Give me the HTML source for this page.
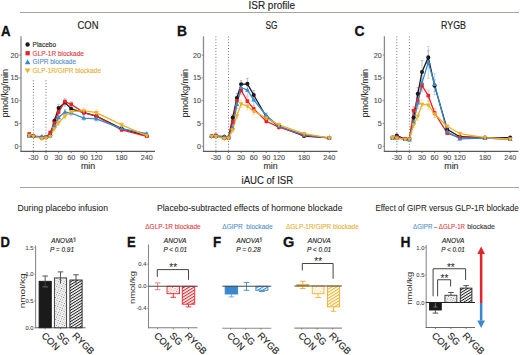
<!DOCTYPE html>
<html><head><meta charset="utf-8"><title>ISR profile</title>
<style>html,body{margin:0;padding:0;background:#fff;}body{width:520px;height:355px;overflow:hidden;font-family:"Liberation Sans", sans-serif;}svg{display:block;}</style>
</head><body>
<svg width="520" height="355" viewBox="0 0 520 355" font-family='"Liberation Sans", sans-serif'>
<defs><pattern id="hk" patternUnits="userSpaceOnUse" width="2.4" height="2.4" patternTransform="rotate(-32)"><rect width="2.4" height="0.95" fill="#1a1a1a"/></pattern><pattern id="hr" patternUnits="userSpaceOnUse" width="2.6" height="2.6" patternTransform="rotate(-32)"><rect width="2.6" height="1.1" fill="#e5242a"/></pattern><pattern id="hb" patternUnits="userSpaceOnUse" width="2.6" height="2.6" patternTransform="rotate(-32)"><rect width="2.6" height="1.1" fill="#3b88cc"/></pattern><pattern id="hy" patternUnits="userSpaceOnUse" width="2.6" height="2.6" patternTransform="rotate(-32)"><rect width="2.6" height="1.1" fill="#eeb12a"/></pattern><pattern id="dk" patternUnits="userSpaceOnUse" width="2.6" height="2.6" patternTransform="rotate(20)"><rect x="0" y="0" width="0.9" height="0.9" fill="#333" opacity="0.7"/><rect x="1.3" y="1.3" width="0.9" height="0.9" fill="#333" opacity="0.55"/></pattern><pattern id="dr" patternUnits="userSpaceOnUse" width="2.6" height="2.6" patternTransform="rotate(20)"><rect x="0" y="0" width="0.9" height="0.9" fill="#e5242a" opacity="0.7"/><rect x="1.3" y="1.3" width="0.9" height="0.9" fill="#e5242a" opacity="0.55"/></pattern><pattern id="db" patternUnits="userSpaceOnUse" width="2.6" height="2.6" patternTransform="rotate(20)"><rect x="0" y="0" width="0.9" height="0.9" fill="#3b88cc" opacity="0.7"/><rect x="1.3" y="1.3" width="0.9" height="0.9" fill="#3b88cc" opacity="0.55"/></pattern><pattern id="dy" patternUnits="userSpaceOnUse" width="2.6" height="2.6" patternTransform="rotate(20)"><rect x="0" y="0" width="0.9" height="0.9" fill="#eeb12a" opacity="0.7"/><rect x="1.3" y="1.3" width="0.9" height="0.9" fill="#eeb12a" opacity="0.55"/></pattern></defs>
<rect width="520" height="355" fill="#fff"/>
<text x="248.5" y="8.8" font-size="10.9" fill="#222" textLength="46.5" lengthAdjust="spacingAndGlyphs" stroke="#222" stroke-width="0.15">ISR profile</text>
<line x1="20" y1="12.5" x2="519" y2="12.5" stroke="#a8a4a0" stroke-width="1"/>
<text x="77.5" y="28.5" font-size="10.9" fill="#222" textLength="21" lengthAdjust="spacingAndGlyphs" stroke="#222" stroke-width="0.15">CON</text>
<text x="265.6" y="28.7" font-size="10.47" fill="#222" textLength="11.9" lengthAdjust="spacingAndGlyphs" stroke="#222" stroke-width="0.15">SG</text>
<text x="441" y="28.9" font-size="10.47" fill="#222" textLength="25" lengthAdjust="spacingAndGlyphs" stroke="#222" stroke-width="0.15">RYGB</text>
<text x="1" y="36.4" font-size="15.12" fill="#111" font-weight="bold" textLength="9.6" lengthAdjust="spacingAndGlyphs" stroke="#111" stroke-width="0.3">A</text>
<text x="177" y="36.4" font-size="15.12" fill="#111" font-weight="bold" textLength="10" lengthAdjust="spacingAndGlyphs" stroke="#111" stroke-width="0.3">B</text>
<text x="354.5" y="36.4" font-size="15.12" fill="#111" font-weight="bold" textLength="10" lengthAdjust="spacingAndGlyphs" stroke="#111" stroke-width="0.3">C</text>
<line x1="33.4" y1="80.3" x2="33.4" y2="151.3" stroke="#555" stroke-width="0.9" stroke-dasharray="0.9 2"/>
<line x1="46" y1="80.3" x2="46" y2="151.3" stroke="#555" stroke-width="0.9" stroke-dasharray="0.9 2"/>
<line x1="21" y1="36.3" x2="21" y2="151.9" stroke="#8a8a8a" stroke-width="1.3"/>
<line x1="20.5" y1="151.3" x2="155" y2="151.3" stroke="#5a5a5a" stroke-width="1.2"/>
<line x1="19.2" y1="146.3" x2="21" y2="146.3" stroke="#777" stroke-width="0.8"/>
<text x="18.4" y="148.8" font-size="7.2" fill="#4d4d4d" text-anchor="end" stroke="#4d4d4d" stroke-width="0.12">0</text>
<line x1="19.2" y1="123.5" x2="21" y2="123.5" stroke="#777" stroke-width="0.8"/>
<text x="18.4" y="126" font-size="7.2" fill="#4d4d4d" text-anchor="end" stroke="#4d4d4d" stroke-width="0.12">5</text>
<line x1="19.2" y1="100.7" x2="21" y2="100.7" stroke="#777" stroke-width="0.8"/>
<text x="18.4" y="103.2" font-size="7.2" fill="#4d4d4d" text-anchor="end" stroke="#4d4d4d" stroke-width="0.12">10</text>
<line x1="19.2" y1="77.9" x2="21" y2="77.9" stroke="#777" stroke-width="0.8"/>
<text x="18.4" y="80.4" font-size="7.2" fill="#4d4d4d" text-anchor="end" stroke="#4d4d4d" stroke-width="0.12">15</text>
<line x1="19.2" y1="55.1" x2="21" y2="55.1" stroke="#777" stroke-width="0.8"/>
<text x="18.4" y="57.6" font-size="7.2" fill="#4d4d4d" text-anchor="end" stroke="#4d4d4d" stroke-width="0.12">20</text>
<line x1="33.4" y1="151.3" x2="33.4" y2="152.9" stroke="#555" stroke-width="0.9"/>
<text x="33.4" y="159.9" font-size="7.2" fill="#4d4d4d" text-anchor="middle" stroke="#4d4d4d" stroke-width="0.12">-30</text>
<line x1="46" y1="151.3" x2="46" y2="152.9" stroke="#555" stroke-width="0.9"/>
<text x="46" y="159.9" font-size="7.2" fill="#4d4d4d" text-anchor="middle" stroke="#4d4d4d" stroke-width="0.12">0</text>
<line x1="58.6" y1="151.3" x2="58.6" y2="152.9" stroke="#555" stroke-width="0.9"/>
<text x="58.6" y="159.9" font-size="7.2" fill="#4d4d4d" text-anchor="middle" stroke="#4d4d4d" stroke-width="0.12">30</text>
<line x1="71.2" y1="151.3" x2="71.2" y2="152.9" stroke="#555" stroke-width="0.9"/>
<text x="71.2" y="159.9" font-size="7.2" fill="#4d4d4d" text-anchor="middle" stroke="#4d4d4d" stroke-width="0.12">60</text>
<line x1="83.8" y1="151.3" x2="83.8" y2="152.9" stroke="#555" stroke-width="0.9"/>
<text x="83.8" y="159.9" font-size="7.2" fill="#4d4d4d" text-anchor="middle" stroke="#4d4d4d" stroke-width="0.12">90</text>
<line x1="96.4" y1="151.3" x2="96.4" y2="152.9" stroke="#555" stroke-width="0.9"/>
<text x="96.4" y="159.9" font-size="7.2" fill="#4d4d4d" text-anchor="middle" stroke="#4d4d4d" stroke-width="0.12">120</text>
<line x1="121.6" y1="151.3" x2="121.6" y2="152.9" stroke="#555" stroke-width="0.9"/>
<text x="121.6" y="159.9" font-size="7.2" fill="#4d4d4d" text-anchor="middle" stroke="#4d4d4d" stroke-width="0.12">180</text>
<line x1="146.8" y1="151.3" x2="146.8" y2="152.9" stroke="#555" stroke-width="0.9"/>
<text x="146.8" y="159.9" font-size="7.2" fill="#4d4d4d" text-anchor="middle" stroke="#4d4d4d" stroke-width="0.12">240</text>
<text x="88" y="168.5" font-size="9.5" fill="#333" text-anchor="middle" textLength="14.2" lengthAdjust="spacingAndGlyphs" stroke="#333" stroke-width="0.15">min</text>
<text x="7.6" y="93.2" font-size="9.3" fill="#333" text-anchor="middle" textLength="48.5" lengthAdjust="spacingAndGlyphs" transform="rotate(-90 7.6 93.2)" stroke="#333" stroke-width="0.05">pmol/kg/min</text>
<line x1="29.2" y1="136.27" x2="29.2" y2="134.44" stroke="#999" stroke-width="0.6"/>
<line x1="27.9" y1="134.44" x2="30.5" y2="134.44" stroke="#999" stroke-width="0.6"/>
<line x1="27.9" y1="136.27" x2="30.5" y2="136.27" stroke="#999" stroke-width="0.6"/>
<line x1="33.4" y1="137.18" x2="33.4" y2="135.36" stroke="#999" stroke-width="0.6"/>
<line x1="32.1" y1="135.36" x2="34.7" y2="135.36" stroke="#999" stroke-width="0.6"/>
<line x1="32.1" y1="137.18" x2="34.7" y2="137.18" stroke="#999" stroke-width="0.6"/>
<line x1="41.8" y1="138.55" x2="41.8" y2="136.72" stroke="#999" stroke-width="0.6"/>
<line x1="40.5" y1="136.72" x2="43.1" y2="136.72" stroke="#999" stroke-width="0.6"/>
<line x1="40.5" y1="138.55" x2="43.1" y2="138.55" stroke="#999" stroke-width="0.6"/>
<line x1="46" y1="138.09" x2="46" y2="136.27" stroke="#999" stroke-width="0.6"/>
<line x1="44.7" y1="136.27" x2="47.3" y2="136.27" stroke="#999" stroke-width="0.6"/>
<line x1="44.7" y1="138.09" x2="47.3" y2="138.09" stroke="#999" stroke-width="0.6"/>
<line x1="50.2" y1="136.72" x2="50.2" y2="133.99" stroke="#999" stroke-width="0.6"/>
<line x1="48.9" y1="133.99" x2="51.5" y2="133.99" stroke="#999" stroke-width="0.6"/>
<line x1="48.9" y1="136.72" x2="51.5" y2="136.72" stroke="#999" stroke-width="0.6"/>
<line x1="54.4" y1="123.5" x2="54.4" y2="118.03" stroke="#999" stroke-width="0.6"/>
<line x1="53.1" y1="118.03" x2="55.7" y2="118.03" stroke="#999" stroke-width="0.6"/>
<line x1="53.1" y1="123.5" x2="55.7" y2="123.5" stroke="#999" stroke-width="0.6"/>
<line x1="58.6" y1="111.64" x2="58.6" y2="104.35" stroke="#999" stroke-width="0.6"/>
<line x1="57.3" y1="104.35" x2="59.9" y2="104.35" stroke="#999" stroke-width="0.6"/>
<line x1="57.3" y1="111.64" x2="59.9" y2="111.64" stroke="#999" stroke-width="0.6"/>
<line x1="64.9" y1="106.17" x2="64.9" y2="98.88" stroke="#999" stroke-width="0.6"/>
<line x1="63.6" y1="98.88" x2="66.2" y2="98.88" stroke="#999" stroke-width="0.6"/>
<line x1="63.6" y1="106.17" x2="66.2" y2="106.17" stroke="#999" stroke-width="0.6"/>
<line x1="71.2" y1="112.1" x2="71.2" y2="105.72" stroke="#999" stroke-width="0.6"/>
<line x1="69.9" y1="105.72" x2="72.5" y2="105.72" stroke="#999" stroke-width="0.6"/>
<line x1="69.9" y1="112.1" x2="72.5" y2="112.1" stroke="#999" stroke-width="0.6"/>
<line x1="83.8" y1="114.84" x2="83.8" y2="110.28" stroke="#999" stroke-width="0.6"/>
<line x1="82.5" y1="110.28" x2="85.1" y2="110.28" stroke="#999" stroke-width="0.6"/>
<line x1="82.5" y1="114.84" x2="85.1" y2="114.84" stroke="#999" stroke-width="0.6"/>
<line x1="96.4" y1="118.48" x2="96.4" y2="113.92" stroke="#999" stroke-width="0.6"/>
<line x1="95.1" y1="113.92" x2="97.7" y2="113.92" stroke="#999" stroke-width="0.6"/>
<line x1="95.1" y1="118.48" x2="97.7" y2="118.48" stroke="#999" stroke-width="0.6"/>
<line x1="121.6" y1="130.34" x2="121.6" y2="126.69" stroke="#999" stroke-width="0.6"/>
<line x1="120.3" y1="126.69" x2="122.9" y2="126.69" stroke="#999" stroke-width="0.6"/>
<line x1="120.3" y1="130.34" x2="122.9" y2="130.34" stroke="#999" stroke-width="0.6"/>
<line x1="146.8" y1="136.72" x2="146.8" y2="134.9" stroke="#999" stroke-width="0.6"/>
<line x1="145.5" y1="134.9" x2="148.1" y2="134.9" stroke="#999" stroke-width="0.6"/>
<line x1="145.5" y1="136.72" x2="148.1" y2="136.72" stroke="#999" stroke-width="0.6"/>
<line x1="29.2" y1="135.36" x2="29.2" y2="132.62" stroke="#f29a9c" stroke-width="0.6"/>
<line x1="27.9" y1="132.62" x2="30.5" y2="132.62" stroke="#f29a9c" stroke-width="0.6"/>
<line x1="27.9" y1="135.36" x2="30.5" y2="135.36" stroke="#f29a9c" stroke-width="0.6"/>
<line x1="33.4" y1="136.72" x2="33.4" y2="134.9" stroke="#f29a9c" stroke-width="0.6"/>
<line x1="32.1" y1="134.9" x2="34.7" y2="134.9" stroke="#f29a9c" stroke-width="0.6"/>
<line x1="32.1" y1="136.72" x2="34.7" y2="136.72" stroke="#f29a9c" stroke-width="0.6"/>
<line x1="41.8" y1="138.55" x2="41.8" y2="136.72" stroke="#f29a9c" stroke-width="0.6"/>
<line x1="40.5" y1="136.72" x2="43.1" y2="136.72" stroke="#f29a9c" stroke-width="0.6"/>
<line x1="40.5" y1="138.55" x2="43.1" y2="138.55" stroke="#f29a9c" stroke-width="0.6"/>
<line x1="46" y1="138.09" x2="46" y2="136.27" stroke="#f29a9c" stroke-width="0.6"/>
<line x1="44.7" y1="136.27" x2="47.3" y2="136.27" stroke="#f29a9c" stroke-width="0.6"/>
<line x1="44.7" y1="138.09" x2="47.3" y2="138.09" stroke="#f29a9c" stroke-width="0.6"/>
<line x1="50.2" y1="133.99" x2="50.2" y2="131.25" stroke="#f29a9c" stroke-width="0.6"/>
<line x1="48.9" y1="131.25" x2="51.5" y2="131.25" stroke="#f29a9c" stroke-width="0.6"/>
<line x1="48.9" y1="133.99" x2="51.5" y2="133.99" stroke="#f29a9c" stroke-width="0.6"/>
<line x1="54.4" y1="125.78" x2="54.4" y2="120.31" stroke="#f29a9c" stroke-width="0.6"/>
<line x1="53.1" y1="120.31" x2="55.7" y2="120.31" stroke="#f29a9c" stroke-width="0.6"/>
<line x1="53.1" y1="125.78" x2="55.7" y2="125.78" stroke="#f29a9c" stroke-width="0.6"/>
<line x1="58.6" y1="115.29" x2="58.6" y2="108.91" stroke="#f29a9c" stroke-width="0.6"/>
<line x1="57.3" y1="108.91" x2="59.9" y2="108.91" stroke="#f29a9c" stroke-width="0.6"/>
<line x1="57.3" y1="115.29" x2="59.9" y2="115.29" stroke="#f29a9c" stroke-width="0.6"/>
<line x1="64.9" y1="104.35" x2="64.9" y2="98.88" stroke="#f29a9c" stroke-width="0.6"/>
<line x1="63.6" y1="98.88" x2="66.2" y2="98.88" stroke="#f29a9c" stroke-width="0.6"/>
<line x1="63.6" y1="104.35" x2="66.2" y2="104.35" stroke="#f29a9c" stroke-width="0.6"/>
<line x1="71.2" y1="107.08" x2="71.2" y2="101.61" stroke="#f29a9c" stroke-width="0.6"/>
<line x1="69.9" y1="101.61" x2="72.5" y2="101.61" stroke="#f29a9c" stroke-width="0.6"/>
<line x1="69.9" y1="107.08" x2="72.5" y2="107.08" stroke="#f29a9c" stroke-width="0.6"/>
<line x1="83.8" y1="114.84" x2="83.8" y2="110.28" stroke="#f29a9c" stroke-width="0.6"/>
<line x1="82.5" y1="110.28" x2="85.1" y2="110.28" stroke="#f29a9c" stroke-width="0.6"/>
<line x1="82.5" y1="114.84" x2="85.1" y2="114.84" stroke="#f29a9c" stroke-width="0.6"/>
<line x1="96.4" y1="118.48" x2="96.4" y2="113.92" stroke="#f29a9c" stroke-width="0.6"/>
<line x1="95.1" y1="113.92" x2="97.7" y2="113.92" stroke="#f29a9c" stroke-width="0.6"/>
<line x1="95.1" y1="118.48" x2="97.7" y2="118.48" stroke="#f29a9c" stroke-width="0.6"/>
<line x1="121.6" y1="131.71" x2="121.6" y2="128.06" stroke="#f29a9c" stroke-width="0.6"/>
<line x1="120.3" y1="128.06" x2="122.9" y2="128.06" stroke="#f29a9c" stroke-width="0.6"/>
<line x1="120.3" y1="131.71" x2="122.9" y2="131.71" stroke="#f29a9c" stroke-width="0.6"/>
<line x1="146.8" y1="137.18" x2="146.8" y2="135.36" stroke="#f29a9c" stroke-width="0.6"/>
<line x1="145.5" y1="135.36" x2="148.1" y2="135.36" stroke="#f29a9c" stroke-width="0.6"/>
<line x1="145.5" y1="137.18" x2="148.1" y2="137.18" stroke="#f29a9c" stroke-width="0.6"/>
<line x1="29.2" y1="137.18" x2="29.2" y2="135.36" stroke="#96c0e6" stroke-width="0.6"/>
<line x1="27.9" y1="135.36" x2="30.5" y2="135.36" stroke="#96c0e6" stroke-width="0.6"/>
<line x1="27.9" y1="137.18" x2="30.5" y2="137.18" stroke="#96c0e6" stroke-width="0.6"/>
<line x1="33.4" y1="137.18" x2="33.4" y2="135.36" stroke="#96c0e6" stroke-width="0.6"/>
<line x1="32.1" y1="135.36" x2="34.7" y2="135.36" stroke="#96c0e6" stroke-width="0.6"/>
<line x1="32.1" y1="137.18" x2="34.7" y2="137.18" stroke="#96c0e6" stroke-width="0.6"/>
<line x1="41.8" y1="137.64" x2="41.8" y2="135.81" stroke="#96c0e6" stroke-width="0.6"/>
<line x1="40.5" y1="135.81" x2="43.1" y2="135.81" stroke="#96c0e6" stroke-width="0.6"/>
<line x1="40.5" y1="137.64" x2="43.1" y2="137.64" stroke="#96c0e6" stroke-width="0.6"/>
<line x1="46" y1="138.09" x2="46" y2="136.27" stroke="#96c0e6" stroke-width="0.6"/>
<line x1="44.7" y1="136.27" x2="47.3" y2="136.27" stroke="#96c0e6" stroke-width="0.6"/>
<line x1="44.7" y1="138.09" x2="47.3" y2="138.09" stroke="#96c0e6" stroke-width="0.6"/>
<line x1="50.2" y1="137.18" x2="50.2" y2="134.44" stroke="#96c0e6" stroke-width="0.6"/>
<line x1="48.9" y1="134.44" x2="51.5" y2="134.44" stroke="#96c0e6" stroke-width="0.6"/>
<line x1="48.9" y1="137.18" x2="51.5" y2="137.18" stroke="#96c0e6" stroke-width="0.6"/>
<line x1="54.4" y1="128.52" x2="54.4" y2="123.96" stroke="#96c0e6" stroke-width="0.6"/>
<line x1="53.1" y1="123.96" x2="55.7" y2="123.96" stroke="#96c0e6" stroke-width="0.6"/>
<line x1="53.1" y1="128.52" x2="55.7" y2="128.52" stroke="#96c0e6" stroke-width="0.6"/>
<line x1="58.6" y1="120.31" x2="58.6" y2="114.84" stroke="#96c0e6" stroke-width="0.6"/>
<line x1="57.3" y1="114.84" x2="59.9" y2="114.84" stroke="#96c0e6" stroke-width="0.6"/>
<line x1="57.3" y1="120.31" x2="59.9" y2="120.31" stroke="#96c0e6" stroke-width="0.6"/>
<line x1="64.9" y1="114.84" x2="64.9" y2="109.36" stroke="#96c0e6" stroke-width="0.6"/>
<line x1="63.6" y1="109.36" x2="66.2" y2="109.36" stroke="#96c0e6" stroke-width="0.6"/>
<line x1="63.6" y1="114.84" x2="66.2" y2="114.84" stroke="#96c0e6" stroke-width="0.6"/>
<line x1="71.2" y1="115.75" x2="71.2" y2="110.28" stroke="#96c0e6" stroke-width="0.6"/>
<line x1="69.9" y1="110.28" x2="72.5" y2="110.28" stroke="#96c0e6" stroke-width="0.6"/>
<line x1="69.9" y1="115.75" x2="72.5" y2="115.75" stroke="#96c0e6" stroke-width="0.6"/>
<line x1="83.8" y1="120.31" x2="83.8" y2="115.75" stroke="#96c0e6" stroke-width="0.6"/>
<line x1="82.5" y1="115.75" x2="85.1" y2="115.75" stroke="#96c0e6" stroke-width="0.6"/>
<line x1="82.5" y1="120.31" x2="85.1" y2="120.31" stroke="#96c0e6" stroke-width="0.6"/>
<line x1="96.4" y1="121.22" x2="96.4" y2="116.66" stroke="#96c0e6" stroke-width="0.6"/>
<line x1="95.1" y1="116.66" x2="97.7" y2="116.66" stroke="#96c0e6" stroke-width="0.6"/>
<line x1="95.1" y1="121.22" x2="97.7" y2="121.22" stroke="#96c0e6" stroke-width="0.6"/>
<line x1="121.6" y1="130.34" x2="121.6" y2="126.69" stroke="#96c0e6" stroke-width="0.6"/>
<line x1="120.3" y1="126.69" x2="122.9" y2="126.69" stroke="#96c0e6" stroke-width="0.6"/>
<line x1="120.3" y1="130.34" x2="122.9" y2="130.34" stroke="#96c0e6" stroke-width="0.6"/>
<line x1="146.8" y1="135.13" x2="146.8" y2="132.39" stroke="#96c0e6" stroke-width="0.6"/>
<line x1="145.5" y1="132.39" x2="148.1" y2="132.39" stroke="#96c0e6" stroke-width="0.6"/>
<line x1="145.5" y1="135.13" x2="148.1" y2="135.13" stroke="#96c0e6" stroke-width="0.6"/>
<line x1="29.2" y1="136.27" x2="29.2" y2="134.44" stroke="#f3d184" stroke-width="0.6"/>
<line x1="27.9" y1="134.44" x2="30.5" y2="134.44" stroke="#f3d184" stroke-width="0.6"/>
<line x1="27.9" y1="136.27" x2="30.5" y2="136.27" stroke="#f3d184" stroke-width="0.6"/>
<line x1="33.4" y1="137.18" x2="33.4" y2="135.36" stroke="#f3d184" stroke-width="0.6"/>
<line x1="32.1" y1="135.36" x2="34.7" y2="135.36" stroke="#f3d184" stroke-width="0.6"/>
<line x1="32.1" y1="137.18" x2="34.7" y2="137.18" stroke="#f3d184" stroke-width="0.6"/>
<line x1="41.8" y1="139.46" x2="41.8" y2="137.64" stroke="#f3d184" stroke-width="0.6"/>
<line x1="40.5" y1="137.64" x2="43.1" y2="137.64" stroke="#f3d184" stroke-width="0.6"/>
<line x1="40.5" y1="139.46" x2="43.1" y2="139.46" stroke="#f3d184" stroke-width="0.6"/>
<line x1="46" y1="139" x2="46" y2="137.18" stroke="#f3d184" stroke-width="0.6"/>
<line x1="44.7" y1="137.18" x2="47.3" y2="137.18" stroke="#f3d184" stroke-width="0.6"/>
<line x1="44.7" y1="139" x2="47.3" y2="139" stroke="#f3d184" stroke-width="0.6"/>
<line x1="50.2" y1="137.64" x2="50.2" y2="134.9" stroke="#f3d184" stroke-width="0.6"/>
<line x1="48.9" y1="134.9" x2="51.5" y2="134.9" stroke="#f3d184" stroke-width="0.6"/>
<line x1="48.9" y1="137.64" x2="51.5" y2="137.64" stroke="#f3d184" stroke-width="0.6"/>
<line x1="54.4" y1="131.02" x2="54.4" y2="126.46" stroke="#f3d184" stroke-width="0.6"/>
<line x1="53.1" y1="126.46" x2="55.7" y2="126.46" stroke="#f3d184" stroke-width="0.6"/>
<line x1="53.1" y1="131.02" x2="55.7" y2="131.02" stroke="#f3d184" stroke-width="0.6"/>
<line x1="58.6" y1="125.32" x2="58.6" y2="119.85" stroke="#f3d184" stroke-width="0.6"/>
<line x1="57.3" y1="119.85" x2="59.9" y2="119.85" stroke="#f3d184" stroke-width="0.6"/>
<line x1="57.3" y1="125.32" x2="59.9" y2="125.32" stroke="#f3d184" stroke-width="0.6"/>
<line x1="64.9" y1="118.94" x2="64.9" y2="113.47" stroke="#f3d184" stroke-width="0.6"/>
<line x1="63.6" y1="113.47" x2="66.2" y2="113.47" stroke="#f3d184" stroke-width="0.6"/>
<line x1="63.6" y1="118.94" x2="66.2" y2="118.94" stroke="#f3d184" stroke-width="0.6"/>
<line x1="71.2" y1="114.38" x2="71.2" y2="108.91" stroke="#f3d184" stroke-width="0.6"/>
<line x1="69.9" y1="108.91" x2="72.5" y2="108.91" stroke="#f3d184" stroke-width="0.6"/>
<line x1="69.9" y1="114.38" x2="72.5" y2="114.38" stroke="#f3d184" stroke-width="0.6"/>
<line x1="83.8" y1="113.47" x2="83.8" y2="108" stroke="#f3d184" stroke-width="0.6"/>
<line x1="82.5" y1="108" x2="85.1" y2="108" stroke="#f3d184" stroke-width="0.6"/>
<line x1="82.5" y1="113.47" x2="85.1" y2="113.47" stroke="#f3d184" stroke-width="0.6"/>
<line x1="96.4" y1="115.29" x2="96.4" y2="109.82" stroke="#f3d184" stroke-width="0.6"/>
<line x1="95.1" y1="109.82" x2="97.7" y2="109.82" stroke="#f3d184" stroke-width="0.6"/>
<line x1="95.1" y1="115.29" x2="97.7" y2="115.29" stroke="#f3d184" stroke-width="0.6"/>
<line x1="121.6" y1="127.15" x2="121.6" y2="122.59" stroke="#f3d184" stroke-width="0.6"/>
<line x1="120.3" y1="122.59" x2="122.9" y2="122.59" stroke="#f3d184" stroke-width="0.6"/>
<line x1="120.3" y1="127.15" x2="122.9" y2="127.15" stroke="#f3d184" stroke-width="0.6"/>
<line x1="146.8" y1="136.5" x2="146.8" y2="134.67" stroke="#f3d184" stroke-width="0.6"/>
<line x1="145.5" y1="134.67" x2="148.1" y2="134.67" stroke="#f3d184" stroke-width="0.6"/>
<line x1="145.5" y1="136.5" x2="148.1" y2="136.5" stroke="#f3d184" stroke-width="0.6"/>
<polyline points="29.2,135.36 33.4,136.27 41.8,137.64 46,137.18 50.2,135.36 54.4,120.76 58.6,108 64.9,102.52 71.2,108.91 83.8,112.56 96.4,116.2 121.6,128.52 146.8,135.81" fill="none" stroke="#1a1a1a" stroke-width="1.3" stroke-linejoin="round"/>
<polyline points="29.2,133.99 33.4,135.81 41.8,137.64 46,137.18 50.2,132.62 54.4,123.04 58.6,112.1 64.9,101.61 71.2,104.35 83.8,112.56 96.4,116.2 121.6,129.88 146.8,136.27" fill="none" stroke="#e5242a" stroke-width="1.3" stroke-linejoin="round"/>
<polyline points="29.2,136.27 33.4,136.27 41.8,136.72 46,137.18 50.2,135.81 54.4,126.24 58.6,117.57 64.9,112.1 71.2,113.01 83.8,118.03 96.4,118.94 121.6,128.52 146.8,133.76" fill="none" stroke="#3b88cc" stroke-width="1.3" stroke-linejoin="round"/>
<polyline points="29.2,135.36 33.4,136.27 41.8,138.55 46,138.09 50.2,136.27 54.4,128.74 58.6,122.59 64.9,116.2 71.2,111.64 83.8,110.73 96.4,112.56 121.6,124.87 146.8,135.58" fill="none" stroke="#eeb12a" stroke-width="1.3" stroke-linejoin="round"/>
<circle cx="29.2" cy="135.36" r="2.05" fill="#1a1a1a"/>
<circle cx="33.4" cy="136.27" r="2.05" fill="#1a1a1a"/>
<circle cx="41.8" cy="137.64" r="2.05" fill="#1a1a1a"/>
<circle cx="46" cy="137.18" r="2.05" fill="#1a1a1a"/>
<circle cx="50.2" cy="135.36" r="2.05" fill="#1a1a1a"/>
<circle cx="54.4" cy="120.76" r="2.05" fill="#1a1a1a"/>
<circle cx="58.6" cy="108" r="2.05" fill="#1a1a1a"/>
<circle cx="64.9" cy="102.52" r="2.05" fill="#1a1a1a"/>
<circle cx="71.2" cy="108.91" r="2.05" fill="#1a1a1a"/>
<circle cx="83.8" cy="112.56" r="2.05" fill="#1a1a1a"/>
<circle cx="96.4" cy="116.2" r="2.05" fill="#1a1a1a"/>
<circle cx="121.6" cy="128.52" r="2.05" fill="#1a1a1a"/>
<circle cx="146.8" cy="135.81" r="2.05" fill="#1a1a1a"/>
<rect x="27.4" y="132.19" width="3.6" height="3.6" fill="#e5242a"/>
<rect x="31.6" y="134.01" width="3.6" height="3.6" fill="#e5242a"/>
<rect x="40" y="135.84" width="3.6" height="3.6" fill="#e5242a"/>
<rect x="44.2" y="135.38" width="3.6" height="3.6" fill="#e5242a"/>
<rect x="48.4" y="130.82" width="3.6" height="3.6" fill="#e5242a"/>
<rect x="52.6" y="121.24" width="3.6" height="3.6" fill="#e5242a"/>
<rect x="56.8" y="110.3" width="3.6" height="3.6" fill="#e5242a"/>
<rect x="63.1" y="99.81" width="3.6" height="3.6" fill="#e5242a"/>
<rect x="69.4" y="102.55" width="3.6" height="3.6" fill="#e5242a"/>
<rect x="82" y="110.76" width="3.6" height="3.6" fill="#e5242a"/>
<rect x="94.6" y="114.4" width="3.6" height="3.6" fill="#e5242a"/>
<rect x="119.8" y="128.08" width="3.6" height="3.6" fill="#e5242a"/>
<rect x="145" y="134.47" width="3.6" height="3.6" fill="#e5242a"/>
<polygon points="29.2,133.67 26.8,137.87 31.6,137.87" fill="#3b88cc"/>
<polygon points="33.4,133.67 31,137.87 35.8,137.87" fill="#3b88cc"/>
<polygon points="41.8,134.12 39.4,138.32 44.2,138.32" fill="#3b88cc"/>
<polygon points="46,134.58 43.6,138.78 48.4,138.78" fill="#3b88cc"/>
<polygon points="50.2,133.21 47.8,137.41 52.6,137.41" fill="#3b88cc"/>
<polygon points="54.4,123.64 52,127.84 56.8,127.84" fill="#3b88cc"/>
<polygon points="58.6,114.97 56.2,119.17 61,119.17" fill="#3b88cc"/>
<polygon points="64.9,109.5 62.5,113.7 67.3,113.7" fill="#3b88cc"/>
<polygon points="71.2,110.41 68.8,114.61 73.6,114.61" fill="#3b88cc"/>
<polygon points="83.8,115.43 81.4,119.63 86.2,119.63" fill="#3b88cc"/>
<polygon points="96.4,116.34 94,120.54 98.8,120.54" fill="#3b88cc"/>
<polygon points="121.6,125.92 119.2,130.12 124,130.12" fill="#3b88cc"/>
<polygon points="146.8,131.16 144.4,135.36 149.2,135.36" fill="#3b88cc"/>
<polygon points="29.2,137.96 26.8,133.76 31.6,133.76" fill="#eeb12a"/>
<polygon points="33.4,138.87 31,134.67 35.8,134.67" fill="#eeb12a"/>
<polygon points="41.8,141.15 39.4,136.95 44.2,136.95" fill="#eeb12a"/>
<polygon points="46,140.69 43.6,136.49 48.4,136.49" fill="#eeb12a"/>
<polygon points="50.2,138.87 47.8,134.67 52.6,134.67" fill="#eeb12a"/>
<polygon points="54.4,131.34 52,127.14 56.8,127.14" fill="#eeb12a"/>
<polygon points="58.6,125.19 56.2,120.99 61,120.99" fill="#eeb12a"/>
<polygon points="64.9,118.8 62.5,114.6 67.3,114.6" fill="#eeb12a"/>
<polygon points="71.2,114.24 68.8,110.04 73.6,110.04" fill="#eeb12a"/>
<polygon points="83.8,113.33 81.4,109.13 86.2,109.13" fill="#eeb12a"/>
<polygon points="96.4,115.16 94,110.96 98.8,110.96" fill="#eeb12a"/>
<polygon points="121.6,127.47 119.2,123.27 124,123.27" fill="#eeb12a"/>
<polygon points="146.8,138.18 144.4,133.98 149.2,133.98" fill="#eeb12a"/>
<line x1="215.9" y1="36.5" x2="215.9" y2="151.3" stroke="#555" stroke-width="0.9" stroke-dasharray="0.9 2"/>
<line x1="228.5" y1="36.5" x2="228.5" y2="151.3" stroke="#555" stroke-width="0.9" stroke-dasharray="0.9 2"/>
<line x1="203.5" y1="36.3" x2="203.5" y2="151.9" stroke="#8a8a8a" stroke-width="1.3"/>
<line x1="203" y1="151.3" x2="337.5" y2="151.3" stroke="#5a5a5a" stroke-width="1.2"/>
<line x1="201.7" y1="146.3" x2="203.5" y2="146.3" stroke="#777" stroke-width="0.8"/>
<text x="200.9" y="148.8" font-size="7.2" fill="#4d4d4d" text-anchor="end" stroke="#4d4d4d" stroke-width="0.12">0</text>
<line x1="201.7" y1="123.5" x2="203.5" y2="123.5" stroke="#777" stroke-width="0.8"/>
<text x="200.9" y="126" font-size="7.2" fill="#4d4d4d" text-anchor="end" stroke="#4d4d4d" stroke-width="0.12">5</text>
<line x1="201.7" y1="100.7" x2="203.5" y2="100.7" stroke="#777" stroke-width="0.8"/>
<text x="200.9" y="103.2" font-size="7.2" fill="#4d4d4d" text-anchor="end" stroke="#4d4d4d" stroke-width="0.12">10</text>
<line x1="201.7" y1="77.9" x2="203.5" y2="77.9" stroke="#777" stroke-width="0.8"/>
<text x="200.9" y="80.4" font-size="7.2" fill="#4d4d4d" text-anchor="end" stroke="#4d4d4d" stroke-width="0.12">15</text>
<line x1="201.7" y1="55.1" x2="203.5" y2="55.1" stroke="#777" stroke-width="0.8"/>
<text x="200.9" y="57.6" font-size="7.2" fill="#4d4d4d" text-anchor="end" stroke="#4d4d4d" stroke-width="0.12">20</text>
<line x1="215.9" y1="151.3" x2="215.9" y2="152.9" stroke="#555" stroke-width="0.9"/>
<text x="215.9" y="159.9" font-size="7.2" fill="#4d4d4d" text-anchor="middle" stroke="#4d4d4d" stroke-width="0.12">-30</text>
<line x1="228.5" y1="151.3" x2="228.5" y2="152.9" stroke="#555" stroke-width="0.9"/>
<text x="228.5" y="159.9" font-size="7.2" fill="#4d4d4d" text-anchor="middle" stroke="#4d4d4d" stroke-width="0.12">0</text>
<line x1="241.1" y1="151.3" x2="241.1" y2="152.9" stroke="#555" stroke-width="0.9"/>
<text x="241.1" y="159.9" font-size="7.2" fill="#4d4d4d" text-anchor="middle" stroke="#4d4d4d" stroke-width="0.12">30</text>
<line x1="253.7" y1="151.3" x2="253.7" y2="152.9" stroke="#555" stroke-width="0.9"/>
<text x="253.7" y="159.9" font-size="7.2" fill="#4d4d4d" text-anchor="middle" stroke="#4d4d4d" stroke-width="0.12">60</text>
<line x1="266.3" y1="151.3" x2="266.3" y2="152.9" stroke="#555" stroke-width="0.9"/>
<text x="266.3" y="159.9" font-size="7.2" fill="#4d4d4d" text-anchor="middle" stroke="#4d4d4d" stroke-width="0.12">90</text>
<line x1="278.9" y1="151.3" x2="278.9" y2="152.9" stroke="#555" stroke-width="0.9"/>
<text x="278.9" y="159.9" font-size="7.2" fill="#4d4d4d" text-anchor="middle" stroke="#4d4d4d" stroke-width="0.12">120</text>
<line x1="304.1" y1="151.3" x2="304.1" y2="152.9" stroke="#555" stroke-width="0.9"/>
<text x="304.1" y="159.9" font-size="7.2" fill="#4d4d4d" text-anchor="middle" stroke="#4d4d4d" stroke-width="0.12">180</text>
<line x1="329.3" y1="151.3" x2="329.3" y2="152.9" stroke="#555" stroke-width="0.9"/>
<text x="329.3" y="159.9" font-size="7.2" fill="#4d4d4d" text-anchor="middle" stroke="#4d4d4d" stroke-width="0.12">240</text>
<text x="270.5" y="168.5" font-size="9.5" fill="#333" text-anchor="middle" textLength="14.2" lengthAdjust="spacingAndGlyphs" stroke="#333" stroke-width="0.15">min</text>
<text x="188.2" y="93.2" font-size="9.3" fill="#333" text-anchor="middle" textLength="48.5" lengthAdjust="spacingAndGlyphs" transform="rotate(-90 188.2 93.2)" stroke="#333" stroke-width="0.05">pmol/kg/min</text>
<line x1="211.7" y1="137.18" x2="211.7" y2="135.36" stroke="#999" stroke-width="0.6"/>
<line x1="210.4" y1="135.36" x2="213" y2="135.36" stroke="#999" stroke-width="0.6"/>
<line x1="210.4" y1="137.18" x2="213" y2="137.18" stroke="#999" stroke-width="0.6"/>
<line x1="215.9" y1="137.18" x2="215.9" y2="135.36" stroke="#999" stroke-width="0.6"/>
<line x1="214.6" y1="135.36" x2="217.2" y2="135.36" stroke="#999" stroke-width="0.6"/>
<line x1="214.6" y1="137.18" x2="217.2" y2="137.18" stroke="#999" stroke-width="0.6"/>
<line x1="224.3" y1="137.64" x2="224.3" y2="135.81" stroke="#999" stroke-width="0.6"/>
<line x1="223" y1="135.81" x2="225.6" y2="135.81" stroke="#999" stroke-width="0.6"/>
<line x1="223" y1="137.64" x2="225.6" y2="137.64" stroke="#999" stroke-width="0.6"/>
<line x1="228.5" y1="138.55" x2="228.5" y2="136.72" stroke="#999" stroke-width="0.6"/>
<line x1="227.2" y1="136.72" x2="229.8" y2="136.72" stroke="#999" stroke-width="0.6"/>
<line x1="227.2" y1="138.55" x2="229.8" y2="138.55" stroke="#999" stroke-width="0.6"/>
<line x1="232.7" y1="120.31" x2="232.7" y2="114.84" stroke="#999" stroke-width="0.6"/>
<line x1="231.4" y1="114.84" x2="234" y2="114.84" stroke="#999" stroke-width="0.6"/>
<line x1="231.4" y1="120.31" x2="234" y2="120.31" stroke="#999" stroke-width="0.6"/>
<line x1="236.9" y1="102.52" x2="236.9" y2="93.4" stroke="#999" stroke-width="0.6"/>
<line x1="235.6" y1="93.4" x2="238.2" y2="93.4" stroke="#999" stroke-width="0.6"/>
<line x1="235.6" y1="102.52" x2="238.2" y2="102.52" stroke="#999" stroke-width="0.6"/>
<line x1="241.1" y1="87.93" x2="241.1" y2="80.64" stroke="#999" stroke-width="0.6"/>
<line x1="239.8" y1="80.64" x2="242.4" y2="80.64" stroke="#999" stroke-width="0.6"/>
<line x1="239.8" y1="87.93" x2="242.4" y2="87.93" stroke="#999" stroke-width="0.6"/>
<line x1="247.4" y1="89.3" x2="247.4" y2="78.36" stroke="#999" stroke-width="0.6"/>
<line x1="246.1" y1="78.36" x2="248.7" y2="78.36" stroke="#999" stroke-width="0.6"/>
<line x1="246.1" y1="89.3" x2="248.7" y2="89.3" stroke="#999" stroke-width="0.6"/>
<line x1="253.7" y1="99.56" x2="253.7" y2="90.44" stroke="#999" stroke-width="0.6"/>
<line x1="252.4" y1="90.44" x2="255" y2="90.44" stroke="#999" stroke-width="0.6"/>
<line x1="252.4" y1="99.56" x2="255" y2="99.56" stroke="#999" stroke-width="0.6"/>
<line x1="266.3" y1="120.08" x2="266.3" y2="113.7" stroke="#999" stroke-width="0.6"/>
<line x1="265" y1="113.7" x2="267.6" y2="113.7" stroke="#999" stroke-width="0.6"/>
<line x1="265" y1="120.08" x2="267.6" y2="120.08" stroke="#999" stroke-width="0.6"/>
<line x1="278.9" y1="128.52" x2="278.9" y2="123.96" stroke="#999" stroke-width="0.6"/>
<line x1="277.6" y1="123.96" x2="280.2" y2="123.96" stroke="#999" stroke-width="0.6"/>
<line x1="277.6" y1="128.52" x2="280.2" y2="128.52" stroke="#999" stroke-width="0.6"/>
<line x1="304.1" y1="137.41" x2="304.1" y2="134.67" stroke="#999" stroke-width="0.6"/>
<line x1="302.8" y1="134.67" x2="305.4" y2="134.67" stroke="#999" stroke-width="0.6"/>
<line x1="302.8" y1="137.41" x2="305.4" y2="137.41" stroke="#999" stroke-width="0.6"/>
<line x1="329.3" y1="138.78" x2="329.3" y2="136.95" stroke="#999" stroke-width="0.6"/>
<line x1="328" y1="136.95" x2="330.6" y2="136.95" stroke="#999" stroke-width="0.6"/>
<line x1="328" y1="138.78" x2="330.6" y2="138.78" stroke="#999" stroke-width="0.6"/>
<line x1="211.7" y1="137.18" x2="211.7" y2="135.36" stroke="#f29a9c" stroke-width="0.6"/>
<line x1="210.4" y1="135.36" x2="213" y2="135.36" stroke="#f29a9c" stroke-width="0.6"/>
<line x1="210.4" y1="137.18" x2="213" y2="137.18" stroke="#f29a9c" stroke-width="0.6"/>
<line x1="215.9" y1="136.27" x2="215.9" y2="134.44" stroke="#f29a9c" stroke-width="0.6"/>
<line x1="214.6" y1="134.44" x2="217.2" y2="134.44" stroke="#f29a9c" stroke-width="0.6"/>
<line x1="214.6" y1="136.27" x2="217.2" y2="136.27" stroke="#f29a9c" stroke-width="0.6"/>
<line x1="224.3" y1="139" x2="224.3" y2="137.18" stroke="#f29a9c" stroke-width="0.6"/>
<line x1="223" y1="137.18" x2="225.6" y2="137.18" stroke="#f29a9c" stroke-width="0.6"/>
<line x1="223" y1="139" x2="225.6" y2="139" stroke="#f29a9c" stroke-width="0.6"/>
<line x1="228.5" y1="138.55" x2="228.5" y2="136.72" stroke="#f29a9c" stroke-width="0.6"/>
<line x1="227.2" y1="136.72" x2="229.8" y2="136.72" stroke="#f29a9c" stroke-width="0.6"/>
<line x1="227.2" y1="138.55" x2="229.8" y2="138.55" stroke="#f29a9c" stroke-width="0.6"/>
<line x1="232.7" y1="124.64" x2="232.7" y2="119.17" stroke="#f29a9c" stroke-width="0.6"/>
<line x1="231.4" y1="119.17" x2="234" y2="119.17" stroke="#f29a9c" stroke-width="0.6"/>
<line x1="231.4" y1="124.64" x2="234" y2="124.64" stroke="#f29a9c" stroke-width="0.6"/>
<line x1="236.9" y1="104.8" x2="236.9" y2="96.6" stroke="#f29a9c" stroke-width="0.6"/>
<line x1="235.6" y1="96.6" x2="238.2" y2="96.6" stroke="#f29a9c" stroke-width="0.6"/>
<line x1="235.6" y1="104.8" x2="238.2" y2="104.8" stroke="#f29a9c" stroke-width="0.6"/>
<line x1="241.1" y1="94.77" x2="241.1" y2="85.65" stroke="#f29a9c" stroke-width="0.6"/>
<line x1="239.8" y1="85.65" x2="242.4" y2="85.65" stroke="#f29a9c" stroke-width="0.6"/>
<line x1="239.8" y1="94.77" x2="242.4" y2="94.77" stroke="#f29a9c" stroke-width="0.6"/>
<line x1="247.4" y1="105.72" x2="247.4" y2="96.6" stroke="#f29a9c" stroke-width="0.6"/>
<line x1="246.1" y1="96.6" x2="248.7" y2="96.6" stroke="#f29a9c" stroke-width="0.6"/>
<line x1="246.1" y1="105.72" x2="248.7" y2="105.72" stroke="#f29a9c" stroke-width="0.6"/>
<line x1="253.7" y1="112.56" x2="253.7" y2="105.26" stroke="#f29a9c" stroke-width="0.6"/>
<line x1="252.4" y1="105.26" x2="255" y2="105.26" stroke="#f29a9c" stroke-width="0.6"/>
<line x1="252.4" y1="112.56" x2="255" y2="112.56" stroke="#f29a9c" stroke-width="0.6"/>
<line x1="266.3" y1="123.96" x2="266.3" y2="118.48" stroke="#f29a9c" stroke-width="0.6"/>
<line x1="265" y1="118.48" x2="267.6" y2="118.48" stroke="#f29a9c" stroke-width="0.6"/>
<line x1="265" y1="123.96" x2="267.6" y2="123.96" stroke="#f29a9c" stroke-width="0.6"/>
<line x1="278.9" y1="129.43" x2="278.9" y2="124.87" stroke="#f29a9c" stroke-width="0.6"/>
<line x1="277.6" y1="124.87" x2="280.2" y2="124.87" stroke="#f29a9c" stroke-width="0.6"/>
<line x1="277.6" y1="129.43" x2="280.2" y2="129.43" stroke="#f29a9c" stroke-width="0.6"/>
<line x1="304.1" y1="136.72" x2="304.1" y2="133.99" stroke="#f29a9c" stroke-width="0.6"/>
<line x1="302.8" y1="133.99" x2="305.4" y2="133.99" stroke="#f29a9c" stroke-width="0.6"/>
<line x1="302.8" y1="136.72" x2="305.4" y2="136.72" stroke="#f29a9c" stroke-width="0.6"/>
<line x1="329.3" y1="138.78" x2="329.3" y2="136.95" stroke="#f29a9c" stroke-width="0.6"/>
<line x1="328" y1="136.95" x2="330.6" y2="136.95" stroke="#f29a9c" stroke-width="0.6"/>
<line x1="328" y1="138.78" x2="330.6" y2="138.78" stroke="#f29a9c" stroke-width="0.6"/>
<line x1="211.7" y1="137.18" x2="211.7" y2="135.36" stroke="#96c0e6" stroke-width="0.6"/>
<line x1="210.4" y1="135.36" x2="213" y2="135.36" stroke="#96c0e6" stroke-width="0.6"/>
<line x1="210.4" y1="137.18" x2="213" y2="137.18" stroke="#96c0e6" stroke-width="0.6"/>
<line x1="215.9" y1="137.18" x2="215.9" y2="135.36" stroke="#96c0e6" stroke-width="0.6"/>
<line x1="214.6" y1="135.36" x2="217.2" y2="135.36" stroke="#96c0e6" stroke-width="0.6"/>
<line x1="214.6" y1="137.18" x2="217.2" y2="137.18" stroke="#96c0e6" stroke-width="0.6"/>
<line x1="224.3" y1="137.64" x2="224.3" y2="135.81" stroke="#96c0e6" stroke-width="0.6"/>
<line x1="223" y1="135.81" x2="225.6" y2="135.81" stroke="#96c0e6" stroke-width="0.6"/>
<line x1="223" y1="137.64" x2="225.6" y2="137.64" stroke="#96c0e6" stroke-width="0.6"/>
<line x1="228.5" y1="138.55" x2="228.5" y2="136.72" stroke="#96c0e6" stroke-width="0.6"/>
<line x1="227.2" y1="136.72" x2="229.8" y2="136.72" stroke="#96c0e6" stroke-width="0.6"/>
<line x1="227.2" y1="138.55" x2="229.8" y2="138.55" stroke="#96c0e6" stroke-width="0.6"/>
<line x1="232.7" y1="130.34" x2="232.7" y2="125.78" stroke="#96c0e6" stroke-width="0.6"/>
<line x1="231.4" y1="125.78" x2="234" y2="125.78" stroke="#96c0e6" stroke-width="0.6"/>
<line x1="231.4" y1="130.34" x2="234" y2="130.34" stroke="#96c0e6" stroke-width="0.6"/>
<line x1="236.9" y1="108.45" x2="236.9" y2="100.24" stroke="#96c0e6" stroke-width="0.6"/>
<line x1="235.6" y1="100.24" x2="238.2" y2="100.24" stroke="#96c0e6" stroke-width="0.6"/>
<line x1="235.6" y1="108.45" x2="238.2" y2="108.45" stroke="#96c0e6" stroke-width="0.6"/>
<line x1="241.1" y1="92.04" x2="241.1" y2="82.92" stroke="#96c0e6" stroke-width="0.6"/>
<line x1="239.8" y1="82.92" x2="242.4" y2="82.92" stroke="#96c0e6" stroke-width="0.6"/>
<line x1="239.8" y1="92.04" x2="242.4" y2="92.04" stroke="#96c0e6" stroke-width="0.6"/>
<line x1="247.4" y1="95.23" x2="247.4" y2="85.2" stroke="#96c0e6" stroke-width="0.6"/>
<line x1="246.1" y1="85.2" x2="248.7" y2="85.2" stroke="#96c0e6" stroke-width="0.6"/>
<line x1="246.1" y1="95.23" x2="248.7" y2="95.23" stroke="#96c0e6" stroke-width="0.6"/>
<line x1="253.7" y1="107.08" x2="253.7" y2="92.49" stroke="#96c0e6" stroke-width="0.6"/>
<line x1="252.4" y1="92.49" x2="255" y2="92.49" stroke="#96c0e6" stroke-width="0.6"/>
<line x1="252.4" y1="107.08" x2="255" y2="107.08" stroke="#96c0e6" stroke-width="0.6"/>
<line x1="266.3" y1="118.26" x2="266.3" y2="112.78" stroke="#96c0e6" stroke-width="0.6"/>
<line x1="265" y1="112.78" x2="267.6" y2="112.78" stroke="#96c0e6" stroke-width="0.6"/>
<line x1="265" y1="118.26" x2="267.6" y2="118.26" stroke="#96c0e6" stroke-width="0.6"/>
<line x1="278.9" y1="128.52" x2="278.9" y2="123.96" stroke="#96c0e6" stroke-width="0.6"/>
<line x1="277.6" y1="123.96" x2="280.2" y2="123.96" stroke="#96c0e6" stroke-width="0.6"/>
<line x1="277.6" y1="128.52" x2="280.2" y2="128.52" stroke="#96c0e6" stroke-width="0.6"/>
<line x1="304.1" y1="136.27" x2="304.1" y2="133.53" stroke="#96c0e6" stroke-width="0.6"/>
<line x1="302.8" y1="133.53" x2="305.4" y2="133.53" stroke="#96c0e6" stroke-width="0.6"/>
<line x1="302.8" y1="136.27" x2="305.4" y2="136.27" stroke="#96c0e6" stroke-width="0.6"/>
<line x1="329.3" y1="138.78" x2="329.3" y2="136.95" stroke="#96c0e6" stroke-width="0.6"/>
<line x1="328" y1="136.95" x2="330.6" y2="136.95" stroke="#96c0e6" stroke-width="0.6"/>
<line x1="328" y1="138.78" x2="330.6" y2="138.78" stroke="#96c0e6" stroke-width="0.6"/>
<line x1="211.7" y1="137.18" x2="211.7" y2="135.36" stroke="#f3d184" stroke-width="0.6"/>
<line x1="210.4" y1="135.36" x2="213" y2="135.36" stroke="#f3d184" stroke-width="0.6"/>
<line x1="210.4" y1="137.18" x2="213" y2="137.18" stroke="#f3d184" stroke-width="0.6"/>
<line x1="215.9" y1="137.64" x2="215.9" y2="135.81" stroke="#f3d184" stroke-width="0.6"/>
<line x1="214.6" y1="135.81" x2="217.2" y2="135.81" stroke="#f3d184" stroke-width="0.6"/>
<line x1="214.6" y1="137.64" x2="217.2" y2="137.64" stroke="#f3d184" stroke-width="0.6"/>
<line x1="224.3" y1="139.46" x2="224.3" y2="137.64" stroke="#f3d184" stroke-width="0.6"/>
<line x1="223" y1="137.64" x2="225.6" y2="137.64" stroke="#f3d184" stroke-width="0.6"/>
<line x1="223" y1="139.46" x2="225.6" y2="139.46" stroke="#f3d184" stroke-width="0.6"/>
<line x1="228.5" y1="139" x2="228.5" y2="137.18" stroke="#f3d184" stroke-width="0.6"/>
<line x1="227.2" y1="137.18" x2="229.8" y2="137.18" stroke="#f3d184" stroke-width="0.6"/>
<line x1="227.2" y1="139" x2="229.8" y2="139" stroke="#f3d184" stroke-width="0.6"/>
<line x1="232.7" y1="132.16" x2="232.7" y2="127.6" stroke="#f3d184" stroke-width="0.6"/>
<line x1="231.4" y1="127.6" x2="234" y2="127.6" stroke="#f3d184" stroke-width="0.6"/>
<line x1="231.4" y1="132.16" x2="234" y2="132.16" stroke="#f3d184" stroke-width="0.6"/>
<line x1="236.9" y1="118.94" x2="236.9" y2="112.56" stroke="#f3d184" stroke-width="0.6"/>
<line x1="235.6" y1="112.56" x2="238.2" y2="112.56" stroke="#f3d184" stroke-width="0.6"/>
<line x1="235.6" y1="118.94" x2="238.2" y2="118.94" stroke="#f3d184" stroke-width="0.6"/>
<line x1="241.1" y1="107.54" x2="241.1" y2="100.24" stroke="#f3d184" stroke-width="0.6"/>
<line x1="239.8" y1="100.24" x2="242.4" y2="100.24" stroke="#f3d184" stroke-width="0.6"/>
<line x1="239.8" y1="107.54" x2="242.4" y2="107.54" stroke="#f3d184" stroke-width="0.6"/>
<line x1="247.4" y1="109.82" x2="247.4" y2="102.52" stroke="#f3d184" stroke-width="0.6"/>
<line x1="246.1" y1="102.52" x2="248.7" y2="102.52" stroke="#f3d184" stroke-width="0.6"/>
<line x1="246.1" y1="109.82" x2="248.7" y2="109.82" stroke="#f3d184" stroke-width="0.6"/>
<line x1="253.7" y1="114.38" x2="253.7" y2="108" stroke="#f3d184" stroke-width="0.6"/>
<line x1="252.4" y1="108" x2="255" y2="108" stroke="#f3d184" stroke-width="0.6"/>
<line x1="252.4" y1="114.38" x2="255" y2="114.38" stroke="#f3d184" stroke-width="0.6"/>
<line x1="266.3" y1="120.76" x2="266.3" y2="115.29" stroke="#f3d184" stroke-width="0.6"/>
<line x1="265" y1="115.29" x2="267.6" y2="115.29" stroke="#f3d184" stroke-width="0.6"/>
<line x1="265" y1="120.76" x2="267.6" y2="120.76" stroke="#f3d184" stroke-width="0.6"/>
<line x1="278.9" y1="127.15" x2="278.9" y2="122.59" stroke="#f3d184" stroke-width="0.6"/>
<line x1="277.6" y1="122.59" x2="280.2" y2="122.59" stroke="#f3d184" stroke-width="0.6"/>
<line x1="277.6" y1="127.15" x2="280.2" y2="127.15" stroke="#f3d184" stroke-width="0.6"/>
<line x1="304.1" y1="134.9" x2="304.1" y2="132.16" stroke="#f3d184" stroke-width="0.6"/>
<line x1="302.8" y1="132.16" x2="305.4" y2="132.16" stroke="#f3d184" stroke-width="0.6"/>
<line x1="302.8" y1="134.9" x2="305.4" y2="134.9" stroke="#f3d184" stroke-width="0.6"/>
<line x1="329.3" y1="138.78" x2="329.3" y2="136.95" stroke="#f3d184" stroke-width="0.6"/>
<line x1="328" y1="136.95" x2="330.6" y2="136.95" stroke="#f3d184" stroke-width="0.6"/>
<line x1="328" y1="138.78" x2="330.6" y2="138.78" stroke="#f3d184" stroke-width="0.6"/>
<polyline points="211.7,136.27 215.9,136.27 224.3,136.72 228.5,137.64 232.7,117.57 236.9,97.96 241.1,84.28 247.4,83.83 253.7,95 266.3,116.89 278.9,126.24 304.1,136.04 329.3,137.86" fill="none" stroke="#1a1a1a" stroke-width="1.3" stroke-linejoin="round"/>
<polyline points="211.7,136.27 215.9,135.36 224.3,138.09 228.5,137.64 232.7,121.9 236.9,100.7 241.1,90.21 247.4,101.16 253.7,108.91 266.3,121.22 278.9,127.15 304.1,135.36 329.3,137.86" fill="none" stroke="#e5242a" stroke-width="1.3" stroke-linejoin="round"/>
<polyline points="211.7,136.27 215.9,136.27 224.3,136.72 228.5,137.64 232.7,128.06 236.9,104.35 241.1,87.48 247.4,90.21 253.7,99.79 266.3,115.52 278.9,126.24 304.1,134.9 329.3,137.86" fill="none" stroke="#3b88cc" stroke-width="1.3" stroke-linejoin="round"/>
<polyline points="211.7,136.27 215.9,136.72 224.3,138.55 228.5,138.09 232.7,129.88 236.9,115.75 241.1,103.89 247.4,106.17 253.7,111.19 266.3,118.03 278.9,124.87 304.1,133.53 329.3,137.86" fill="none" stroke="#eeb12a" stroke-width="1.3" stroke-linejoin="round"/>
<circle cx="211.7" cy="136.27" r="2.05" fill="#1a1a1a"/>
<circle cx="215.9" cy="136.27" r="2.05" fill="#1a1a1a"/>
<circle cx="224.3" cy="136.72" r="2.05" fill="#1a1a1a"/>
<circle cx="228.5" cy="137.64" r="2.05" fill="#1a1a1a"/>
<circle cx="232.7" cy="117.57" r="2.05" fill="#1a1a1a"/>
<circle cx="236.9" cy="97.96" r="2.05" fill="#1a1a1a"/>
<circle cx="241.1" cy="84.28" r="2.05" fill="#1a1a1a"/>
<circle cx="247.4" cy="83.83" r="2.05" fill="#1a1a1a"/>
<circle cx="253.7" cy="95" r="2.05" fill="#1a1a1a"/>
<circle cx="266.3" cy="116.89" r="2.05" fill="#1a1a1a"/>
<circle cx="278.9" cy="126.24" r="2.05" fill="#1a1a1a"/>
<circle cx="304.1" cy="136.04" r="2.05" fill="#1a1a1a"/>
<circle cx="329.3" cy="137.86" r="2.05" fill="#1a1a1a"/>
<rect x="209.9" y="134.47" width="3.6" height="3.6" fill="#e5242a"/>
<rect x="214.1" y="133.56" width="3.6" height="3.6" fill="#e5242a"/>
<rect x="222.5" y="136.29" width="3.6" height="3.6" fill="#e5242a"/>
<rect x="226.7" y="135.84" width="3.6" height="3.6" fill="#e5242a"/>
<rect x="230.9" y="120.1" width="3.6" height="3.6" fill="#e5242a"/>
<rect x="235.1" y="98.9" width="3.6" height="3.6" fill="#e5242a"/>
<rect x="239.3" y="88.41" width="3.6" height="3.6" fill="#e5242a"/>
<rect x="245.6" y="99.36" width="3.6" height="3.6" fill="#e5242a"/>
<rect x="251.9" y="107.11" width="3.6" height="3.6" fill="#e5242a"/>
<rect x="264.5" y="119.42" width="3.6" height="3.6" fill="#e5242a"/>
<rect x="277.1" y="125.35" width="3.6" height="3.6" fill="#e5242a"/>
<rect x="302.3" y="133.56" width="3.6" height="3.6" fill="#e5242a"/>
<rect x="327.5" y="136.06" width="3.6" height="3.6" fill="#e5242a"/>
<polygon points="211.7,133.67 209.3,137.87 214.1,137.87" fill="#3b88cc"/>
<polygon points="215.9,133.67 213.5,137.87 218.3,137.87" fill="#3b88cc"/>
<polygon points="224.3,134.12 221.9,138.32 226.7,138.32" fill="#3b88cc"/>
<polygon points="228.5,135.04 226.1,139.24 230.9,139.24" fill="#3b88cc"/>
<polygon points="232.7,125.46 230.3,129.66 235.1,129.66" fill="#3b88cc"/>
<polygon points="236.9,101.75 234.5,105.95 239.3,105.95" fill="#3b88cc"/>
<polygon points="241.1,84.88 238.7,89.08 243.5,89.08" fill="#3b88cc"/>
<polygon points="247.4,87.61 245,91.81 249.8,91.81" fill="#3b88cc"/>
<polygon points="253.7,97.19 251.3,101.39 256.1,101.39" fill="#3b88cc"/>
<polygon points="266.3,112.92 263.9,117.12 268.7,117.12" fill="#3b88cc"/>
<polygon points="278.9,123.64 276.5,127.84 281.3,127.84" fill="#3b88cc"/>
<polygon points="304.1,132.3 301.7,136.5 306.5,136.5" fill="#3b88cc"/>
<polygon points="329.3,135.26 326.9,139.46 331.7,139.46" fill="#3b88cc"/>
<polygon points="211.7,138.87 209.3,134.67 214.1,134.67" fill="#eeb12a"/>
<polygon points="215.9,139.32 213.5,135.12 218.3,135.12" fill="#eeb12a"/>
<polygon points="224.3,141.15 221.9,136.95 226.7,136.95" fill="#eeb12a"/>
<polygon points="228.5,140.69 226.1,136.49 230.9,136.49" fill="#eeb12a"/>
<polygon points="232.7,132.48 230.3,128.28 235.1,128.28" fill="#eeb12a"/>
<polygon points="236.9,118.35 234.5,114.15 239.3,114.15" fill="#eeb12a"/>
<polygon points="241.1,106.49 238.7,102.29 243.5,102.29" fill="#eeb12a"/>
<polygon points="247.4,108.77 245,104.57 249.8,104.57" fill="#eeb12a"/>
<polygon points="253.7,113.79 251.3,109.59 256.1,109.59" fill="#eeb12a"/>
<polygon points="266.3,120.63 263.9,116.43 268.7,116.43" fill="#eeb12a"/>
<polygon points="278.9,127.47 276.5,123.27 281.3,123.27" fill="#eeb12a"/>
<polygon points="304.1,136.13 301.7,131.93 306.5,131.93" fill="#eeb12a"/>
<polygon points="329.3,140.46 326.9,136.26 331.7,136.26" fill="#eeb12a"/>
<line x1="396.8" y1="36.5" x2="396.8" y2="151.3" stroke="#555" stroke-width="0.9" stroke-dasharray="0.9 2"/>
<line x1="409.4" y1="36.5" x2="409.4" y2="151.3" stroke="#555" stroke-width="0.9" stroke-dasharray="0.9 2"/>
<line x1="384.4" y1="36.3" x2="384.4" y2="151.9" stroke="#8a8a8a" stroke-width="1.3"/>
<line x1="383.9" y1="151.3" x2="518.4" y2="151.3" stroke="#5a5a5a" stroke-width="1.2"/>
<line x1="382.6" y1="146.3" x2="384.4" y2="146.3" stroke="#777" stroke-width="0.8"/>
<text x="381.8" y="148.8" font-size="7.2" fill="#4d4d4d" text-anchor="end" stroke="#4d4d4d" stroke-width="0.12">0</text>
<line x1="382.6" y1="123.5" x2="384.4" y2="123.5" stroke="#777" stroke-width="0.8"/>
<text x="381.8" y="126" font-size="7.2" fill="#4d4d4d" text-anchor="end" stroke="#4d4d4d" stroke-width="0.12">5</text>
<line x1="382.6" y1="100.7" x2="384.4" y2="100.7" stroke="#777" stroke-width="0.8"/>
<text x="381.8" y="103.2" font-size="7.2" fill="#4d4d4d" text-anchor="end" stroke="#4d4d4d" stroke-width="0.12">10</text>
<line x1="382.6" y1="77.9" x2="384.4" y2="77.9" stroke="#777" stroke-width="0.8"/>
<text x="381.8" y="80.4" font-size="7.2" fill="#4d4d4d" text-anchor="end" stroke="#4d4d4d" stroke-width="0.12">15</text>
<line x1="382.6" y1="55.1" x2="384.4" y2="55.1" stroke="#777" stroke-width="0.8"/>
<text x="381.8" y="57.6" font-size="7.2" fill="#4d4d4d" text-anchor="end" stroke="#4d4d4d" stroke-width="0.12">20</text>
<line x1="396.8" y1="151.3" x2="396.8" y2="152.9" stroke="#555" stroke-width="0.9"/>
<text x="396.8" y="159.9" font-size="7.2" fill="#4d4d4d" text-anchor="middle" stroke="#4d4d4d" stroke-width="0.12">-30</text>
<line x1="409.4" y1="151.3" x2="409.4" y2="152.9" stroke="#555" stroke-width="0.9"/>
<text x="409.4" y="159.9" font-size="7.2" fill="#4d4d4d" text-anchor="middle" stroke="#4d4d4d" stroke-width="0.12">0</text>
<line x1="422" y1="151.3" x2="422" y2="152.9" stroke="#555" stroke-width="0.9"/>
<text x="422" y="159.9" font-size="7.2" fill="#4d4d4d" text-anchor="middle" stroke="#4d4d4d" stroke-width="0.12">30</text>
<line x1="434.6" y1="151.3" x2="434.6" y2="152.9" stroke="#555" stroke-width="0.9"/>
<text x="434.6" y="159.9" font-size="7.2" fill="#4d4d4d" text-anchor="middle" stroke="#4d4d4d" stroke-width="0.12">60</text>
<line x1="447.2" y1="151.3" x2="447.2" y2="152.9" stroke="#555" stroke-width="0.9"/>
<text x="447.2" y="159.9" font-size="7.2" fill="#4d4d4d" text-anchor="middle" stroke="#4d4d4d" stroke-width="0.12">90</text>
<line x1="459.8" y1="151.3" x2="459.8" y2="152.9" stroke="#555" stroke-width="0.9"/>
<text x="459.8" y="159.9" font-size="7.2" fill="#4d4d4d" text-anchor="middle" stroke="#4d4d4d" stroke-width="0.12">120</text>
<line x1="485" y1="151.3" x2="485" y2="152.9" stroke="#555" stroke-width="0.9"/>
<text x="485" y="159.9" font-size="7.2" fill="#4d4d4d" text-anchor="middle" stroke="#4d4d4d" stroke-width="0.12">180</text>
<line x1="510.2" y1="151.3" x2="510.2" y2="152.9" stroke="#555" stroke-width="0.9"/>
<text x="510.2" y="159.9" font-size="7.2" fill="#4d4d4d" text-anchor="middle" stroke="#4d4d4d" stroke-width="0.12">240</text>
<text x="451.4" y="168.5" font-size="9.5" fill="#333" text-anchor="middle" textLength="14.2" lengthAdjust="spacingAndGlyphs" stroke="#333" stroke-width="0.15">min</text>
<text x="368.2" y="93.2" font-size="9.3" fill="#333" text-anchor="middle" textLength="48.5" lengthAdjust="spacingAndGlyphs" transform="rotate(-90 368.2 93.2)" stroke="#333" stroke-width="0.05">pmol/kg/min</text>
<line x1="392.6" y1="138.55" x2="392.6" y2="136.72" stroke="#999" stroke-width="0.6"/>
<line x1="391.3" y1="136.72" x2="393.9" y2="136.72" stroke="#999" stroke-width="0.6"/>
<line x1="391.3" y1="138.55" x2="393.9" y2="138.55" stroke="#999" stroke-width="0.6"/>
<line x1="396.8" y1="136.5" x2="396.8" y2="134.67" stroke="#999" stroke-width="0.6"/>
<line x1="395.5" y1="134.67" x2="398.1" y2="134.67" stroke="#999" stroke-width="0.6"/>
<line x1="395.5" y1="136.5" x2="398.1" y2="136.5" stroke="#999" stroke-width="0.6"/>
<line x1="405.2" y1="139.92" x2="405.2" y2="138.09" stroke="#999" stroke-width="0.6"/>
<line x1="403.9" y1="138.09" x2="406.5" y2="138.09" stroke="#999" stroke-width="0.6"/>
<line x1="403.9" y1="139.92" x2="406.5" y2="139.92" stroke="#999" stroke-width="0.6"/>
<line x1="409.4" y1="139.92" x2="409.4" y2="138.09" stroke="#999" stroke-width="0.6"/>
<line x1="408.1" y1="138.09" x2="410.7" y2="138.09" stroke="#999" stroke-width="0.6"/>
<line x1="408.1" y1="139.92" x2="410.7" y2="139.92" stroke="#999" stroke-width="0.6"/>
<line x1="413.6" y1="121.22" x2="413.6" y2="113.92" stroke="#999" stroke-width="0.6"/>
<line x1="412.3" y1="113.92" x2="414.9" y2="113.92" stroke="#999" stroke-width="0.6"/>
<line x1="412.3" y1="121.22" x2="414.9" y2="121.22" stroke="#999" stroke-width="0.6"/>
<line x1="417.8" y1="100.24" x2="417.8" y2="87.48" stroke="#999" stroke-width="0.6"/>
<line x1="416.5" y1="87.48" x2="419.1" y2="87.48" stroke="#999" stroke-width="0.6"/>
<line x1="416.5" y1="100.24" x2="419.1" y2="100.24" stroke="#999" stroke-width="0.6"/>
<line x1="422" y1="83.37" x2="422" y2="60.57" stroke="#999" stroke-width="0.6"/>
<line x1="420.7" y1="60.57" x2="423.3" y2="60.57" stroke="#999" stroke-width="0.6"/>
<line x1="420.7" y1="83.37" x2="423.3" y2="83.37" stroke="#999" stroke-width="0.6"/>
<line x1="428.3" y1="64.22" x2="428.3" y2="50.54" stroke="#999" stroke-width="0.6"/>
<line x1="427" y1="50.54" x2="429.6" y2="50.54" stroke="#999" stroke-width="0.6"/>
<line x1="427" y1="64.22" x2="429.6" y2="64.22" stroke="#999" stroke-width="0.6"/>
<line x1="434.6" y1="91.58" x2="434.6" y2="79.72" stroke="#999" stroke-width="0.6"/>
<line x1="433.3" y1="79.72" x2="435.9" y2="79.72" stroke="#999" stroke-width="0.6"/>
<line x1="433.3" y1="91.58" x2="435.9" y2="91.58" stroke="#999" stroke-width="0.6"/>
<line x1="447.2" y1="131.71" x2="447.2" y2="127.15" stroke="#999" stroke-width="0.6"/>
<line x1="445.9" y1="127.15" x2="448.5" y2="127.15" stroke="#999" stroke-width="0.6"/>
<line x1="445.9" y1="131.71" x2="448.5" y2="131.71" stroke="#999" stroke-width="0.6"/>
<line x1="459.8" y1="138.09" x2="459.8" y2="135.36" stroke="#999" stroke-width="0.6"/>
<line x1="458.5" y1="135.36" x2="461.1" y2="135.36" stroke="#999" stroke-width="0.6"/>
<line x1="458.5" y1="138.09" x2="461.1" y2="138.09" stroke="#999" stroke-width="0.6"/>
<line x1="485" y1="138.55" x2="485" y2="136.72" stroke="#999" stroke-width="0.6"/>
<line x1="483.7" y1="136.72" x2="486.3" y2="136.72" stroke="#999" stroke-width="0.6"/>
<line x1="483.7" y1="138.55" x2="486.3" y2="138.55" stroke="#999" stroke-width="0.6"/>
<line x1="510.2" y1="138.55" x2="510.2" y2="136.72" stroke="#999" stroke-width="0.6"/>
<line x1="508.9" y1="136.72" x2="511.5" y2="136.72" stroke="#999" stroke-width="0.6"/>
<line x1="508.9" y1="138.55" x2="511.5" y2="138.55" stroke="#999" stroke-width="0.6"/>
<line x1="392.6" y1="138.55" x2="392.6" y2="136.72" stroke="#f29a9c" stroke-width="0.6"/>
<line x1="391.3" y1="136.72" x2="393.9" y2="136.72" stroke="#f29a9c" stroke-width="0.6"/>
<line x1="391.3" y1="138.55" x2="393.9" y2="138.55" stroke="#f29a9c" stroke-width="0.6"/>
<line x1="396.8" y1="138.09" x2="396.8" y2="136.27" stroke="#f29a9c" stroke-width="0.6"/>
<line x1="395.5" y1="136.27" x2="398.1" y2="136.27" stroke="#f29a9c" stroke-width="0.6"/>
<line x1="395.5" y1="138.09" x2="398.1" y2="138.09" stroke="#f29a9c" stroke-width="0.6"/>
<line x1="405.2" y1="139.92" x2="405.2" y2="138.09" stroke="#f29a9c" stroke-width="0.6"/>
<line x1="403.9" y1="138.09" x2="406.5" y2="138.09" stroke="#f29a9c" stroke-width="0.6"/>
<line x1="403.9" y1="139.92" x2="406.5" y2="139.92" stroke="#f29a9c" stroke-width="0.6"/>
<line x1="409.4" y1="139.92" x2="409.4" y2="138.09" stroke="#f29a9c" stroke-width="0.6"/>
<line x1="408.1" y1="138.09" x2="410.7" y2="138.09" stroke="#f29a9c" stroke-width="0.6"/>
<line x1="408.1" y1="139.92" x2="410.7" y2="139.92" stroke="#f29a9c" stroke-width="0.6"/>
<line x1="413.6" y1="114.84" x2="413.6" y2="106.63" stroke="#f29a9c" stroke-width="0.6"/>
<line x1="412.3" y1="106.63" x2="414.9" y2="106.63" stroke="#f29a9c" stroke-width="0.6"/>
<line x1="412.3" y1="114.84" x2="414.9" y2="114.84" stroke="#f29a9c" stroke-width="0.6"/>
<line x1="417.8" y1="106.63" x2="417.8" y2="95.68" stroke="#f29a9c" stroke-width="0.6"/>
<line x1="416.5" y1="95.68" x2="419.1" y2="95.68" stroke="#f29a9c" stroke-width="0.6"/>
<line x1="416.5" y1="106.63" x2="419.1" y2="106.63" stroke="#f29a9c" stroke-width="0.6"/>
<line x1="422" y1="92.04" x2="422" y2="79.27" stroke="#f29a9c" stroke-width="0.6"/>
<line x1="420.7" y1="79.27" x2="423.3" y2="79.27" stroke="#f29a9c" stroke-width="0.6"/>
<line x1="420.7" y1="92.04" x2="423.3" y2="92.04" stroke="#f29a9c" stroke-width="0.6"/>
<line x1="428.3" y1="101.16" x2="428.3" y2="90.21" stroke="#f29a9c" stroke-width="0.6"/>
<line x1="427" y1="90.21" x2="429.6" y2="90.21" stroke="#f29a9c" stroke-width="0.6"/>
<line x1="427" y1="101.16" x2="429.6" y2="101.16" stroke="#f29a9c" stroke-width="0.6"/>
<line x1="434.6" y1="117.57" x2="434.6" y2="108.45" stroke="#f29a9c" stroke-width="0.6"/>
<line x1="433.3" y1="108.45" x2="435.9" y2="108.45" stroke="#f29a9c" stroke-width="0.6"/>
<line x1="433.3" y1="117.57" x2="435.9" y2="117.57" stroke="#f29a9c" stroke-width="0.6"/>
<line x1="447.2" y1="134.9" x2="447.2" y2="131.25" stroke="#f29a9c" stroke-width="0.6"/>
<line x1="445.9" y1="131.25" x2="448.5" y2="131.25" stroke="#f29a9c" stroke-width="0.6"/>
<line x1="445.9" y1="134.9" x2="448.5" y2="134.9" stroke="#f29a9c" stroke-width="0.6"/>
<line x1="459.8" y1="139" x2="459.8" y2="136.27" stroke="#f29a9c" stroke-width="0.6"/>
<line x1="458.5" y1="136.27" x2="461.1" y2="136.27" stroke="#f29a9c" stroke-width="0.6"/>
<line x1="458.5" y1="139" x2="461.1" y2="139" stroke="#f29a9c" stroke-width="0.6"/>
<line x1="485" y1="139" x2="485" y2="137.18" stroke="#f29a9c" stroke-width="0.6"/>
<line x1="483.7" y1="137.18" x2="486.3" y2="137.18" stroke="#f29a9c" stroke-width="0.6"/>
<line x1="483.7" y1="139" x2="486.3" y2="139" stroke="#f29a9c" stroke-width="0.6"/>
<line x1="510.2" y1="139.92" x2="510.2" y2="138.09" stroke="#f29a9c" stroke-width="0.6"/>
<line x1="508.9" y1="138.09" x2="511.5" y2="138.09" stroke="#f29a9c" stroke-width="0.6"/>
<line x1="508.9" y1="139.92" x2="511.5" y2="139.92" stroke="#f29a9c" stroke-width="0.6"/>
<line x1="392.6" y1="139" x2="392.6" y2="137.18" stroke="#96c0e6" stroke-width="0.6"/>
<line x1="391.3" y1="137.18" x2="393.9" y2="137.18" stroke="#96c0e6" stroke-width="0.6"/>
<line x1="391.3" y1="139" x2="393.9" y2="139" stroke="#96c0e6" stroke-width="0.6"/>
<line x1="396.8" y1="139" x2="396.8" y2="137.18" stroke="#96c0e6" stroke-width="0.6"/>
<line x1="395.5" y1="137.18" x2="398.1" y2="137.18" stroke="#96c0e6" stroke-width="0.6"/>
<line x1="395.5" y1="139" x2="398.1" y2="139" stroke="#96c0e6" stroke-width="0.6"/>
<line x1="405.2" y1="140.37" x2="405.2" y2="138.55" stroke="#96c0e6" stroke-width="0.6"/>
<line x1="403.9" y1="138.55" x2="406.5" y2="138.55" stroke="#96c0e6" stroke-width="0.6"/>
<line x1="403.9" y1="140.37" x2="406.5" y2="140.37" stroke="#96c0e6" stroke-width="0.6"/>
<line x1="409.4" y1="140.83" x2="409.4" y2="139" stroke="#96c0e6" stroke-width="0.6"/>
<line x1="408.1" y1="139" x2="410.7" y2="139" stroke="#96c0e6" stroke-width="0.6"/>
<line x1="408.1" y1="140.83" x2="410.7" y2="140.83" stroke="#96c0e6" stroke-width="0.6"/>
<line x1="413.6" y1="125.78" x2="413.6" y2="119.4" stroke="#96c0e6" stroke-width="0.6"/>
<line x1="412.3" y1="119.4" x2="414.9" y2="119.4" stroke="#96c0e6" stroke-width="0.6"/>
<line x1="412.3" y1="125.78" x2="414.9" y2="125.78" stroke="#96c0e6" stroke-width="0.6"/>
<line x1="417.8" y1="108.45" x2="417.8" y2="97.51" stroke="#96c0e6" stroke-width="0.6"/>
<line x1="416.5" y1="97.51" x2="419.1" y2="97.51" stroke="#96c0e6" stroke-width="0.6"/>
<line x1="416.5" y1="108.45" x2="419.1" y2="108.45" stroke="#96c0e6" stroke-width="0.6"/>
<line x1="422" y1="90.21" x2="422" y2="75.62" stroke="#96c0e6" stroke-width="0.6"/>
<line x1="420.7" y1="75.62" x2="423.3" y2="75.62" stroke="#96c0e6" stroke-width="0.6"/>
<line x1="420.7" y1="90.21" x2="423.3" y2="90.21" stroke="#96c0e6" stroke-width="0.6"/>
<line x1="428.3" y1="78.36" x2="428.3" y2="46.44" stroke="#96c0e6" stroke-width="0.6"/>
<line x1="427" y1="46.44" x2="429.6" y2="46.44" stroke="#96c0e6" stroke-width="0.6"/>
<line x1="427" y1="78.36" x2="429.6" y2="78.36" stroke="#96c0e6" stroke-width="0.6"/>
<line x1="434.6" y1="94.77" x2="434.6" y2="73.8" stroke="#96c0e6" stroke-width="0.6"/>
<line x1="433.3" y1="73.8" x2="435.9" y2="73.8" stroke="#96c0e6" stroke-width="0.6"/>
<line x1="433.3" y1="94.77" x2="435.9" y2="94.77" stroke="#96c0e6" stroke-width="0.6"/>
<line x1="447.2" y1="133.53" x2="447.2" y2="129.88" stroke="#96c0e6" stroke-width="0.6"/>
<line x1="445.9" y1="129.88" x2="448.5" y2="129.88" stroke="#96c0e6" stroke-width="0.6"/>
<line x1="445.9" y1="133.53" x2="448.5" y2="133.53" stroke="#96c0e6" stroke-width="0.6"/>
<line x1="459.8" y1="140.14" x2="459.8" y2="137.41" stroke="#96c0e6" stroke-width="0.6"/>
<line x1="458.5" y1="137.41" x2="461.1" y2="137.41" stroke="#96c0e6" stroke-width="0.6"/>
<line x1="458.5" y1="140.14" x2="461.1" y2="140.14" stroke="#96c0e6" stroke-width="0.6"/>
<line x1="485" y1="139" x2="485" y2="137.18" stroke="#96c0e6" stroke-width="0.6"/>
<line x1="483.7" y1="137.18" x2="486.3" y2="137.18" stroke="#96c0e6" stroke-width="0.6"/>
<line x1="483.7" y1="139" x2="486.3" y2="139" stroke="#96c0e6" stroke-width="0.6"/>
<line x1="510.2" y1="140.14" x2="510.2" y2="138.32" stroke="#96c0e6" stroke-width="0.6"/>
<line x1="508.9" y1="138.32" x2="511.5" y2="138.32" stroke="#96c0e6" stroke-width="0.6"/>
<line x1="508.9" y1="140.14" x2="511.5" y2="140.14" stroke="#96c0e6" stroke-width="0.6"/>
<line x1="392.6" y1="138.55" x2="392.6" y2="136.72" stroke="#f3d184" stroke-width="0.6"/>
<line x1="391.3" y1="136.72" x2="393.9" y2="136.72" stroke="#f3d184" stroke-width="0.6"/>
<line x1="391.3" y1="138.55" x2="393.9" y2="138.55" stroke="#f3d184" stroke-width="0.6"/>
<line x1="396.8" y1="139" x2="396.8" y2="137.18" stroke="#f3d184" stroke-width="0.6"/>
<line x1="395.5" y1="137.18" x2="398.1" y2="137.18" stroke="#f3d184" stroke-width="0.6"/>
<line x1="395.5" y1="139" x2="398.1" y2="139" stroke="#f3d184" stroke-width="0.6"/>
<line x1="405.2" y1="140.14" x2="405.2" y2="138.32" stroke="#f3d184" stroke-width="0.6"/>
<line x1="403.9" y1="138.32" x2="406.5" y2="138.32" stroke="#f3d184" stroke-width="0.6"/>
<line x1="403.9" y1="140.14" x2="406.5" y2="140.14" stroke="#f3d184" stroke-width="0.6"/>
<line x1="409.4" y1="139.92" x2="409.4" y2="138.09" stroke="#f3d184" stroke-width="0.6"/>
<line x1="408.1" y1="138.09" x2="410.7" y2="138.09" stroke="#f3d184" stroke-width="0.6"/>
<line x1="408.1" y1="139.92" x2="410.7" y2="139.92" stroke="#f3d184" stroke-width="0.6"/>
<line x1="413.6" y1="127.6" x2="413.6" y2="122.13" stroke="#f3d184" stroke-width="0.6"/>
<line x1="412.3" y1="122.13" x2="414.9" y2="122.13" stroke="#f3d184" stroke-width="0.6"/>
<line x1="412.3" y1="127.6" x2="414.9" y2="127.6" stroke="#f3d184" stroke-width="0.6"/>
<line x1="417.8" y1="120.31" x2="417.8" y2="112.1" stroke="#f3d184" stroke-width="0.6"/>
<line x1="416.5" y1="112.1" x2="419.1" y2="112.1" stroke="#f3d184" stroke-width="0.6"/>
<line x1="416.5" y1="120.31" x2="419.1" y2="120.31" stroke="#f3d184" stroke-width="0.6"/>
<line x1="422" y1="108.91" x2="422" y2="99.79" stroke="#f3d184" stroke-width="0.6"/>
<line x1="420.7" y1="99.79" x2="423.3" y2="99.79" stroke="#f3d184" stroke-width="0.6"/>
<line x1="420.7" y1="108.91" x2="423.3" y2="108.91" stroke="#f3d184" stroke-width="0.6"/>
<line x1="428.3" y1="109.59" x2="428.3" y2="100.47" stroke="#f3d184" stroke-width="0.6"/>
<line x1="427" y1="100.47" x2="429.6" y2="100.47" stroke="#f3d184" stroke-width="0.6"/>
<line x1="427" y1="109.59" x2="429.6" y2="109.59" stroke="#f3d184" stroke-width="0.6"/>
<line x1="434.6" y1="117.57" x2="434.6" y2="110.28" stroke="#f3d184" stroke-width="0.6"/>
<line x1="433.3" y1="110.28" x2="435.9" y2="110.28" stroke="#f3d184" stroke-width="0.6"/>
<line x1="433.3" y1="117.57" x2="435.9" y2="117.57" stroke="#f3d184" stroke-width="0.6"/>
<line x1="447.2" y1="128.52" x2="447.2" y2="123.96" stroke="#f3d184" stroke-width="0.6"/>
<line x1="445.9" y1="123.96" x2="448.5" y2="123.96" stroke="#f3d184" stroke-width="0.6"/>
<line x1="445.9" y1="128.52" x2="448.5" y2="128.52" stroke="#f3d184" stroke-width="0.6"/>
<line x1="459.8" y1="135.36" x2="459.8" y2="131.71" stroke="#f3d184" stroke-width="0.6"/>
<line x1="458.5" y1="131.71" x2="461.1" y2="131.71" stroke="#f3d184" stroke-width="0.6"/>
<line x1="458.5" y1="135.36" x2="461.1" y2="135.36" stroke="#f3d184" stroke-width="0.6"/>
<line x1="485" y1="138.55" x2="485" y2="136.72" stroke="#f3d184" stroke-width="0.6"/>
<line x1="483.7" y1="136.72" x2="486.3" y2="136.72" stroke="#f3d184" stroke-width="0.6"/>
<line x1="483.7" y1="138.55" x2="486.3" y2="138.55" stroke="#f3d184" stroke-width="0.6"/>
<line x1="510.2" y1="139.92" x2="510.2" y2="138.09" stroke="#f3d184" stroke-width="0.6"/>
<line x1="508.9" y1="138.09" x2="511.5" y2="138.09" stroke="#f3d184" stroke-width="0.6"/>
<line x1="508.9" y1="139.92" x2="511.5" y2="139.92" stroke="#f3d184" stroke-width="0.6"/>
<polyline points="392.6,137.64 396.8,135.58 405.2,139 409.4,139 413.6,117.57 417.8,93.86 422,71.97 428.3,57.38 434.6,85.65 447.2,129.43 459.8,136.72 485,137.64 510.2,137.64" fill="none" stroke="#1a1a1a" stroke-width="1.3" stroke-linejoin="round"/>
<polyline points="392.6,137.64 396.8,137.18 405.2,139 409.4,139 413.6,110.73 417.8,101.16 422,85.65 428.3,95.68 434.6,113.01 447.2,133.08 459.8,137.64 485,138.09 510.2,139" fill="none" stroke="#e5242a" stroke-width="1.3" stroke-linejoin="round"/>
<polyline points="392.6,138.09 396.8,138.09 405.2,139.46 409.4,139.92 413.6,122.59 417.8,102.98 422,82.92 428.3,62.4 434.6,84.28 447.2,131.71 459.8,138.78 485,138.09 510.2,139.23" fill="none" stroke="#3b88cc" stroke-width="1.3" stroke-linejoin="round"/>
<polyline points="392.6,137.64 396.8,138.09 405.2,139.23 409.4,139 413.6,124.87 417.8,116.2 422,104.35 428.3,105.03 434.6,113.92 447.2,126.24 459.8,133.53 485,137.64 510.2,139" fill="none" stroke="#eeb12a" stroke-width="1.3" stroke-linejoin="round"/>
<circle cx="392.6" cy="137.64" r="2.05" fill="#1a1a1a"/>
<circle cx="396.8" cy="135.58" r="2.05" fill="#1a1a1a"/>
<circle cx="405.2" cy="139" r="2.05" fill="#1a1a1a"/>
<circle cx="409.4" cy="139" r="2.05" fill="#1a1a1a"/>
<circle cx="413.6" cy="117.57" r="2.05" fill="#1a1a1a"/>
<circle cx="417.8" cy="93.86" r="2.05" fill="#1a1a1a"/>
<circle cx="422" cy="71.97" r="2.05" fill="#1a1a1a"/>
<circle cx="428.3" cy="57.38" r="2.05" fill="#1a1a1a"/>
<circle cx="434.6" cy="85.65" r="2.05" fill="#1a1a1a"/>
<circle cx="447.2" cy="129.43" r="2.05" fill="#1a1a1a"/>
<circle cx="459.8" cy="136.72" r="2.05" fill="#1a1a1a"/>
<circle cx="485" cy="137.64" r="2.05" fill="#1a1a1a"/>
<circle cx="510.2" cy="137.64" r="2.05" fill="#1a1a1a"/>
<rect x="390.8" y="135.84" width="3.6" height="3.6" fill="#e5242a"/>
<rect x="395" y="135.38" width="3.6" height="3.6" fill="#e5242a"/>
<rect x="403.4" y="137.2" width="3.6" height="3.6" fill="#e5242a"/>
<rect x="407.6" y="137.2" width="3.6" height="3.6" fill="#e5242a"/>
<rect x="411.8" y="108.93" width="3.6" height="3.6" fill="#e5242a"/>
<rect x="416" y="99.36" width="3.6" height="3.6" fill="#e5242a"/>
<rect x="420.2" y="83.85" width="3.6" height="3.6" fill="#e5242a"/>
<rect x="426.5" y="93.88" width="3.6" height="3.6" fill="#e5242a"/>
<rect x="432.8" y="111.21" width="3.6" height="3.6" fill="#e5242a"/>
<rect x="445.4" y="131.28" width="3.6" height="3.6" fill="#e5242a"/>
<rect x="458" y="135.84" width="3.6" height="3.6" fill="#e5242a"/>
<rect x="483.2" y="136.29" width="3.6" height="3.6" fill="#e5242a"/>
<rect x="508.4" y="137.2" width="3.6" height="3.6" fill="#e5242a"/>
<polygon points="392.6,135.49 390.2,139.69 395,139.69" fill="#3b88cc"/>
<polygon points="396.8,135.49 394.4,139.69 399.2,139.69" fill="#3b88cc"/>
<polygon points="405.2,136.86 402.8,141.06 407.6,141.06" fill="#3b88cc"/>
<polygon points="409.4,137.32 407,141.52 411.8,141.52" fill="#3b88cc"/>
<polygon points="413.6,119.99 411.2,124.19 416,124.19" fill="#3b88cc"/>
<polygon points="417.8,100.38 415.4,104.58 420.2,104.58" fill="#3b88cc"/>
<polygon points="422,80.32 419.6,84.52 424.4,84.52" fill="#3b88cc"/>
<polygon points="428.3,59.8 425.9,64 430.7,64" fill="#3b88cc"/>
<polygon points="434.6,81.68 432.2,85.88 437,85.88" fill="#3b88cc"/>
<polygon points="447.2,129.11 444.8,133.31 449.6,133.31" fill="#3b88cc"/>
<polygon points="459.8,136.18 457.4,140.38 462.2,140.38" fill="#3b88cc"/>
<polygon points="485,135.49 482.6,139.69 487.4,139.69" fill="#3b88cc"/>
<polygon points="510.2,136.63 507.8,140.83 512.6,140.83" fill="#3b88cc"/>
<polygon points="392.6,140.24 390.2,136.04 395,136.04" fill="#eeb12a"/>
<polygon points="396.8,140.69 394.4,136.49 399.2,136.49" fill="#eeb12a"/>
<polygon points="405.2,141.83 402.8,137.63 407.6,137.63" fill="#eeb12a"/>
<polygon points="409.4,141.6 407,137.4 411.8,137.4" fill="#eeb12a"/>
<polygon points="413.6,127.47 411.2,123.27 416,123.27" fill="#eeb12a"/>
<polygon points="417.8,118.8 415.4,114.6 420.2,114.6" fill="#eeb12a"/>
<polygon points="422,106.95 419.6,102.75 424.4,102.75" fill="#eeb12a"/>
<polygon points="428.3,107.63 425.9,103.43 430.7,103.43" fill="#eeb12a"/>
<polygon points="434.6,116.52 432.2,112.32 437,112.32" fill="#eeb12a"/>
<polygon points="447.2,128.84 444.8,124.64 449.6,124.64" fill="#eeb12a"/>
<polygon points="459.8,136.13 457.4,131.93 462.2,131.93" fill="#eeb12a"/>
<polygon points="485,140.24 482.6,136.04 487.4,136.04" fill="#eeb12a"/>
<polygon points="510.2,141.6 507.8,137.4 512.6,137.4" fill="#eeb12a"/>
<circle cx="27.6" cy="44.5" r="2.2" fill="#1a1a1a"/>
<rect x="25.5" y="51.1" width="4.3" height="4.3" fill="#e5242a"/>
<polygon points="27.6,59.2 24.8,64.3 30.5,64.3" fill="#3b88cc"/>
<polygon points="27.6,73.3 24.8,68.6 30.5,68.6" fill="#eeb12a"/>
<text x="32.6" y="46.8" font-size="6.9" fill="#222" textLength="23.4" lengthAdjust="spacingAndGlyphs" stroke="#222" stroke-width="0.12">Placebo</text>
<text x="32.6" y="55.5" font-size="6.9" fill="#e03a3e" textLength="51.3" lengthAdjust="spacingAndGlyphs" stroke="#e03a3e" stroke-width="0.12">GLP-1R blockade</text>
<text x="32.6" y="64.3" font-size="6.9" fill="#4f8fca" textLength="43.4" lengthAdjust="spacingAndGlyphs" stroke="#4f8fca" stroke-width="0.12">GIPR blockade</text>
<text x="32.6" y="73" font-size="6.9" fill="#e6ae30" textLength="68.4" lengthAdjust="spacingAndGlyphs" stroke="#e6ae30" stroke-width="0.12">GLP-1R/GIPR blockade</text>
<text x="241.5" y="184.4" font-size="10.9" fill="#222" textLength="51.6" lengthAdjust="spacingAndGlyphs" stroke="#222" stroke-width="0.15">iAUC of ISR</text>
<line x1="20" y1="187.5" x2="519" y2="187.5" stroke="#a8a4a0" stroke-width="1"/>
<text x="17.5" y="210.7" font-size="9.01" fill="#222" textLength="90.5" lengthAdjust="spacingAndGlyphs" stroke="#222" stroke-width="0.05">During placebo infusion</text>
<text x="156.9" y="210.9" font-size="9.01" fill="#222" textLength="185.6" lengthAdjust="spacingAndGlyphs" stroke="#222" stroke-width="0.05">Placebo-subtracted effects of hormone blockade</text>
<text x="375.4" y="210.9" font-size="9.01" fill="#222" textLength="143.4" lengthAdjust="spacingAndGlyphs" stroke="#222" stroke-width="0.05">Effect of GIPR versus GLP-1R blockade</text>
<text x="145.3" y="229" font-size="6.69" fill="#e03a3e" textLength="55.3" lengthAdjust="spacingAndGlyphs" stroke="#e03a3e" stroke-width="0.1">ΔGLP-1R blockade</text>
<text x="222.3" y="229" font-size="6.69" fill="#4f8fca" textLength="50.3" lengthAdjust="spacingAndGlyphs" stroke="#4f8fca" stroke-width="0.1">ΔGIPR  blockade</text>
<text x="286" y="229" font-size="6.69" fill="#e6ae30" textLength="72.8" lengthAdjust="spacingAndGlyphs" stroke="#e6ae30" stroke-width="0.1">ΔGLP-1R/GIPR blockade</text>
<text x="413.1" y="229" font-size="6.69" fill="#4f8fca" textLength="19.4" lengthAdjust="spacingAndGlyphs" stroke="#4f8fca" stroke-width="0.1">ΔGIPR</text>
<text x="434" y="229" font-size="6.69" fill="#333" textLength="3.2" lengthAdjust="spacingAndGlyphs">–</text>
<text x="438.8" y="229" font-size="6.69" fill="#e03a3e" textLength="26.2" lengthAdjust="spacingAndGlyphs" stroke="#e03a3e" stroke-width="0.1">ΔGLP-1R</text>
<text x="467.3" y="229" font-size="6.69" fill="#333" textLength="27.5" lengthAdjust="spacingAndGlyphs" stroke="#333" stroke-width="0.1">blockade</text>
<text x="0.6" y="247" font-size="15.12" fill="#111" font-weight="bold" textLength="9.4" lengthAdjust="spacingAndGlyphs" stroke="#111" stroke-width="0.3">D</text>
<text x="126.9" y="247" font-size="15.12" fill="#111" font-weight="bold" textLength="8.7" lengthAdjust="spacingAndGlyphs" stroke="#111" stroke-width="0.3">E</text>
<text x="213.1" y="247" font-size="15.12" fill="#111" font-weight="bold" textLength="8.2" lengthAdjust="spacingAndGlyphs" stroke="#111" stroke-width="0.3">F</text>
<text x="283.1" y="247" font-size="15.12" fill="#111" font-weight="bold" textLength="11.3" lengthAdjust="spacingAndGlyphs" stroke="#111" stroke-width="0.3">G</text>
<text x="400.6" y="247" font-size="15.12" fill="#111" font-weight="bold" textLength="10" lengthAdjust="spacingAndGlyphs" stroke="#111" stroke-width="0.3">H</text>
<text x="51.25" y="242.6" font-size="6.54" fill="#222" font-style="italic" textLength="21.85" lengthAdjust="spacingAndGlyphs" stroke="#222" stroke-width="0.12">ANOVA</text>
<text x="50" y="251.5" font-size="6.69" fill="#222" font-style="italic" textLength="24" lengthAdjust="spacingAndGlyphs" stroke="#222" stroke-width="0.12">P = 0.91</text>
<text x="73.2" y="240.6" font-size="4.6" fill="#222">§</text>
<text x="163.75" y="242.6" font-size="6.54" fill="#222" font-style="italic" textLength="22.75" lengthAdjust="spacingAndGlyphs" stroke="#222" stroke-width="0.12">ANOVA</text>
<text x="163.5" y="251.5" font-size="6.69" fill="#222" font-style="italic" textLength="23.4" lengthAdjust="spacingAndGlyphs" stroke="#222" stroke-width="0.12">P &lt; 0.01</text>
<text x="236.25" y="242.6" font-size="6.54" fill="#222" font-style="italic" textLength="23.25" lengthAdjust="spacingAndGlyphs" stroke="#222" stroke-width="0.12">ANOVA</text>
<text x="236.25" y="251.5" font-size="6.69" fill="#222" font-style="italic" textLength="24.35" lengthAdjust="spacingAndGlyphs" stroke="#222" stroke-width="0.12">P = 0.28</text>
<text x="259.6" y="240.6" font-size="4.6" fill="#222">§</text>
<text x="307.75" y="242.6" font-size="6.54" fill="#222" font-style="italic" textLength="22.85" lengthAdjust="spacingAndGlyphs" stroke="#222" stroke-width="0.12">ANOVA</text>
<text x="306.9" y="251.5" font-size="6.69" fill="#222" font-style="italic" textLength="24.35" lengthAdjust="spacingAndGlyphs" stroke="#222" stroke-width="0.12">P &lt; 0.01</text>
<text x="441.9" y="242.6" font-size="6.54" fill="#222" font-style="italic" textLength="22.5" lengthAdjust="spacingAndGlyphs" stroke="#222" stroke-width="0.12">ANOVA</text>
<text x="441.25" y="251.5" font-size="6.69" fill="#222" font-style="italic" textLength="23.5" lengthAdjust="spacingAndGlyphs" stroke="#222" stroke-width="0.12">P &lt; 0.01</text>
<line x1="35.6" y1="245.6" x2="35.6" y2="328.3" stroke="#8a8a8a" stroke-width="1.1"/>
<line x1="35.1" y1="327.75" x2="85.6" y2="327.75" stroke="#6a6a6a" stroke-width="1.1"/>
<line x1="34.2" y1="247.5" x2="35.6" y2="247.5" stroke="#888" stroke-width="0.7"/>
<text x="33.6" y="249.5" font-size="5.8" fill="#444" text-anchor="end" stroke="#444" stroke-width="0.08">1.5</text>
<line x1="34.2" y1="274.25" x2="35.6" y2="274.25" stroke="#888" stroke-width="0.7"/>
<text x="33.6" y="276.25" font-size="5.8" fill="#444" text-anchor="end" stroke="#444" stroke-width="0.08">1.0</text>
<line x1="34.2" y1="301" x2="35.6" y2="301" stroke="#888" stroke-width="0.7"/>
<text x="33.6" y="303" font-size="5.8" fill="#444" text-anchor="end" stroke="#444" stroke-width="0.08">0.5</text>
<line x1="34.2" y1="327.75" x2="35.6" y2="327.75" stroke="#888" stroke-width="0.7"/>
<text x="33.6" y="329.75" font-size="5.8" fill="#444" text-anchor="end" stroke="#444" stroke-width="0.08">0.0</text>
<text x="24.6" y="290.8" font-size="7.8" fill="#333" text-anchor="middle" textLength="35" lengthAdjust="spacingAndGlyphs" transform="rotate(-90 24.6 290.8)" stroke="#333" stroke-width="0.05">nmol/kg</text>
<line x1="45.2" y1="327.75" x2="45.2" y2="329.3" stroke="#666" stroke-width="0.8"/>
<line x1="60.5" y1="327.75" x2="60.5" y2="329.3" stroke="#666" stroke-width="0.8"/>
<line x1="76" y1="327.75" x2="76" y2="329.3" stroke="#666" stroke-width="0.8"/>
<rect x="39.1" y="281.3" width="12.2" height="46.45" fill="#1a1a1a" stroke="#1a1a1a" stroke-width="0.9"/>
<rect x="54.4" y="277.9" width="12.2" height="49.85" fill="white"/>
<rect x="54.4" y="277.9" width="12.2" height="49.85" fill="url(#dk)" stroke="#333" stroke-width="0.9"/>
<rect x="69.9" y="280" width="12.2" height="47.75" fill="white"/>
<rect x="69.9" y="280" width="12.2" height="47.75" fill="url(#hk)" stroke="#222" stroke-width="0.9"/>
<line x1="45.2" y1="286.9" x2="45.2" y2="276" stroke="#444" stroke-width="0.9"/>
<line x1="42.4" y1="276" x2="48" y2="276" stroke="#444" stroke-width="0.9"/>
<line x1="42.4" y1="286.9" x2="48" y2="286.9" stroke="#777" stroke-width="0.8"/>
<line x1="60.5" y1="283.7" x2="60.5" y2="271.9" stroke="#444" stroke-width="0.9"/>
<line x1="57.7" y1="271.9" x2="63.3" y2="271.9" stroke="#444" stroke-width="0.9"/>
<line x1="76" y1="285" x2="76" y2="274.8" stroke="#444" stroke-width="0.9"/>
<line x1="73.2" y1="274.8" x2="78.8" y2="274.8" stroke="#444" stroke-width="0.9"/>
<text x="41" y="336.3" font-size="9.4" fill="#222" transform="rotate(45 41 336.3)" stroke="#222" stroke-width="0.12">CON</text>
<text x="56.3" y="336.3" font-size="9.4" fill="#222" transform="rotate(45 56.3 336.3)" stroke="#222" stroke-width="0.12">SG</text>
<text x="71.8" y="336.3" font-size="9.4" fill="#222" transform="rotate(45 71.8 336.3)" stroke="#222" stroke-width="0.12">RYGB</text>
<line x1="148.5" y1="244.4" x2="148.5" y2="328.3" stroke="#8a8a8a" stroke-width="1.1"/>
<line x1="148" y1="327.75" x2="197.5" y2="327.75" stroke="#7e7e7e" stroke-width="1.1"/>
<line x1="147.1" y1="264.13" x2="148.5" y2="264.13" stroke="#888" stroke-width="0.7"/>
<text x="146.4" y="266.13" font-size="5.8" fill="#444" text-anchor="end" stroke="#444" stroke-width="0.08">0.4</text>
<line x1="147.1" y1="286.25" x2="148.5" y2="286.25" stroke="#888" stroke-width="0.7"/>
<text x="146.4" y="288.25" font-size="5.8" fill="#444" text-anchor="end" stroke="#444" stroke-width="0.08">0.0</text>
<line x1="147.1" y1="308.37" x2="148.5" y2="308.37" stroke="#888" stroke-width="0.7"/>
<text x="146.4" y="310.37" font-size="5.8" fill="#444" text-anchor="end" stroke="#444" stroke-width="0.08">-0.4</text>
<text x="134.7" y="287.5" font-size="7.8" fill="#333" text-anchor="middle" textLength="33" lengthAdjust="spacingAndGlyphs" transform="rotate(-90 134.7 287.5)" stroke="#333" stroke-width="0.05">nmol/kg</text>
<line x1="157.6" y1="327.75" x2="157.6" y2="329.3" stroke="#666" stroke-width="0.8"/>
<line x1="173.3" y1="327.75" x2="173.3" y2="329.3" stroke="#666" stroke-width="0.8"/>
<line x1="188.5" y1="327.75" x2="188.5" y2="329.3" stroke="#666" stroke-width="0.8"/>
<rect x="167.05" y="286.25" width="12.5" height="7.45" fill="white"/>
<rect x="167.05" y="286.25" width="12.5" height="7.45" fill="url(#dr)" stroke="#e5242a" stroke-width="0.9"/>
<rect x="182.25" y="286.25" width="12.5" height="17.95" fill="white"/>
<rect x="182.25" y="286.25" width="12.5" height="17.95" fill="url(#hr)" stroke="#e5242a" stroke-width="0.9"/>
<line x1="157.6" y1="286.25" x2="157.6" y2="282.9" stroke="#f07070" stroke-width="0.9"/>
<line x1="154.8" y1="282.9" x2="160.4" y2="282.9" stroke="#f07070" stroke-width="0.9"/>
<line x1="157.6" y1="286.25" x2="157.6" y2="289.7" stroke="#f07070" stroke-width="0.9"/>
<line x1="154.8" y1="289.7" x2="160.4" y2="289.7" stroke="#f07070" stroke-width="0.9"/>
<line x1="173.3" y1="293.7" x2="173.3" y2="297.3" stroke="#e5242a" stroke-width="0.9"/>
<line x1="170.5" y1="297.3" x2="176.1" y2="297.3" stroke="#e5242a" stroke-width="0.9"/>
<line x1="188.5" y1="304.2" x2="188.5" y2="306.9" stroke="#e5242a" stroke-width="0.9"/>
<line x1="185.7" y1="306.9" x2="191.3" y2="306.9" stroke="#e5242a" stroke-width="0.9"/>
<line x1="148.5" y1="286.25" x2="197.8" y2="286.25" stroke="#484848" stroke-width="1.2"/>
<polyline points="157.3,276.9 157.3,269.6 188.5,269.6 188.5,279.8" fill="none" stroke="#444" stroke-width="1" stroke-linejoin="round"/>
<text x="173.2" y="271.3" font-size="10" fill="#222" text-anchor="middle">**</text>
<text x="153.4" y="336.3" font-size="9.4" fill="#222" transform="rotate(45 153.4 336.3)" stroke="#222" stroke-width="0.12">CON</text>
<text x="169.1" y="336.3" font-size="9.4" fill="#222" transform="rotate(45 169.1 336.3)" stroke="#222" stroke-width="0.12">SG</text>
<text x="184.3" y="336.3" font-size="9.4" fill="#222" transform="rotate(45 184.3 336.3)" stroke="#222" stroke-width="0.12">RYGB</text>
<line x1="222.3" y1="328.2" x2="271.3" y2="328.2" stroke="#8a8a8a" stroke-width="1.1"/>
<line x1="230.6" y1="328.2" x2="230.6" y2="329.6" stroke="#666" stroke-width="0.8"/>
<line x1="245.7" y1="328.2" x2="245.7" y2="329.6" stroke="#666" stroke-width="0.8"/>
<line x1="261.1" y1="328.2" x2="261.1" y2="329.6" stroke="#666" stroke-width="0.8"/>
<rect x="225.15" y="286.25" width="12.5" height="7.75" fill="#3b88cc" stroke="#3b88cc" stroke-width="0.9"/>
<rect x="255.85" y="286.25" width="12.1" height="4.05" fill="white"/>
<rect x="255.85" y="286.25" width="12.1" height="4.05" fill="url(#hb)" stroke="#3b88cc" stroke-width="0.9"/>
<line x1="231.4" y1="294" x2="231.4" y2="296.9" stroke="#6aa3d6" stroke-width="0.9"/>
<line x1="228.6" y1="296.9" x2="234.2" y2="296.9" stroke="#6aa3d6" stroke-width="0.9"/>
<line x1="246.5" y1="286.25" x2="246.5" y2="282.5" stroke="#3b88cc" stroke-width="0.9"/>
<line x1="243.7" y1="282.5" x2="249.3" y2="282.5" stroke="#3b88cc" stroke-width="0.9"/>
<line x1="246.5" y1="286.25" x2="246.5" y2="290.3" stroke="#3b88cc" stroke-width="0.9"/>
<line x1="243.7" y1="290.3" x2="249.3" y2="290.3" stroke="#3b88cc" stroke-width="0.9"/>
<line x1="261.9" y1="290.3" x2="261.9" y2="291.5" stroke="#3b88cc" stroke-width="0.9"/>
<line x1="259.1" y1="291.5" x2="264.7" y2="291.5" stroke="#3b88cc" stroke-width="0.9"/>
<line x1="222.3" y1="286.25" x2="271.3" y2="286.25" stroke="#484848" stroke-width="1.2"/>
<text x="226.4" y="336.3" font-size="9.4" fill="#222" transform="rotate(45 226.4 336.3)" stroke="#222" stroke-width="0.12">CON</text>
<text x="241.5" y="336.3" font-size="9.4" fill="#222" transform="rotate(45 241.5 336.3)" stroke="#222" stroke-width="0.12">SG</text>
<text x="256.9" y="336.3" font-size="9.4" fill="#222" transform="rotate(45 256.9 336.3)" stroke="#222" stroke-width="0.12">RYGB</text>
<line x1="294.4" y1="328.1" x2="341.9" y2="328.1" stroke="#8a8a8a" stroke-width="1.1"/>
<line x1="301.9" y1="328.1" x2="301.9" y2="329.5" stroke="#666" stroke-width="0.8"/>
<line x1="317.2" y1="328.1" x2="317.2" y2="329.5" stroke="#666" stroke-width="0.8"/>
<line x1="332.6" y1="328.1" x2="332.6" y2="329.5" stroke="#666" stroke-width="0.8"/>
<rect x="296.85" y="284.4" width="11.9" height="1.6" fill="#eeb12a" stroke="#eeb12a" stroke-width="0.9"/>
<rect x="312.2" y="286" width="11.8" height="7.75" fill="white"/>
<rect x="312.2" y="286" width="11.8" height="7.75" fill="url(#dy)" stroke="#eeb12a" stroke-width="0.9"/>
<rect x="327.55" y="286" width="11.9" height="20.9" fill="white"/>
<rect x="327.55" y="286" width="11.9" height="20.9" fill="url(#hy)" stroke="#eeb12a" stroke-width="0.9"/>
<line x1="302.8" y1="284.4" x2="302.8" y2="281.25" stroke="#e9a15a" stroke-width="0.9"/>
<line x1="300" y1="281.25" x2="305.6" y2="281.25" stroke="#e9a15a" stroke-width="0.9"/>
<line x1="302.8" y1="286" x2="302.8" y2="288.5" stroke="#e9a15a" stroke-width="0.9"/>
<line x1="300" y1="288.5" x2="305.6" y2="288.5" stroke="#e9a15a" stroke-width="0.9"/>
<line x1="318.1" y1="293.75" x2="318.1" y2="297.6" stroke="#eeb12a" stroke-width="0.9"/>
<line x1="315.3" y1="297.6" x2="320.9" y2="297.6" stroke="#eeb12a" stroke-width="0.9"/>
<line x1="333.5" y1="306.9" x2="333.5" y2="311.25" stroke="#eeb12a" stroke-width="0.9"/>
<line x1="330.7" y1="311.25" x2="336.3" y2="311.25" stroke="#eeb12a" stroke-width="0.9"/>
<line x1="294.4" y1="286" x2="341.9" y2="286" stroke="#484848" stroke-width="1.2"/>
<polyline points="302.3,270.5 302.3,263.5 333.1,263.5 333.1,278.8" fill="none" stroke="#444" stroke-width="1" stroke-linejoin="round"/>
<text x="318.2" y="264.8" font-size="10" fill="#222" text-anchor="middle">**</text>
<text x="297.7" y="336.3" font-size="9.4" fill="#222" transform="rotate(45 297.7 336.3)" stroke="#222" stroke-width="0.12">CON</text>
<text x="313" y="336.3" font-size="9.4" fill="#222" transform="rotate(45 313 336.3)" stroke="#222" stroke-width="0.12">SG</text>
<text x="328.4" y="336.3" font-size="9.4" fill="#222" transform="rotate(45 328.4 336.3)" stroke="#222" stroke-width="0.12">RYGB</text>
<line x1="426.2" y1="245" x2="426.2" y2="328" stroke="#8a8a8a" stroke-width="1.1"/>
<line x1="425.7" y1="327.5" x2="475" y2="327.5" stroke="#6a6a6a" stroke-width="1.1"/>
<line x1="424.8" y1="247.5" x2="426.2" y2="247.5" stroke="#888" stroke-width="0.7"/>
<text x="424.4" y="249.5" font-size="5.8" fill="#444" text-anchor="end" stroke="#444" stroke-width="0.08">1.0</text>
<line x1="424.8" y1="275" x2="426.2" y2="275" stroke="#888" stroke-width="0.7"/>
<text x="424.4" y="277" font-size="5.8" fill="#444" text-anchor="end" stroke="#444" stroke-width="0.08">0.5</text>
<line x1="424.8" y1="302.5" x2="426.2" y2="302.5" stroke="#888" stroke-width="0.7"/>
<text x="424.4" y="304.5" font-size="5.8" fill="#444" text-anchor="end" stroke="#444" stroke-width="0.08">0.0</text>
<text x="412.4" y="288.2" font-size="7.8" fill="#333" text-anchor="middle" textLength="33" lengthAdjust="spacingAndGlyphs" transform="rotate(-90 412.4 288.2)" stroke="#333" stroke-width="0.05">nmol/kg</text>
<line x1="435.4" y1="327.5" x2="435.4" y2="329" stroke="#666" stroke-width="0.8"/>
<line x1="450.9" y1="327.5" x2="450.9" y2="329" stroke="#666" stroke-width="0.8"/>
<line x1="466.1" y1="327.5" x2="466.1" y2="329" stroke="#666" stroke-width="0.8"/>
<rect x="429.5" y="302.5" width="11.8" height="7.5" fill="#1a1a1a" stroke="#1a1a1a" stroke-width="0.9"/>
<rect x="444.95" y="295.25" width="11.9" height="7.25" fill="white"/>
<rect x="444.95" y="295.25" width="11.9" height="7.25" fill="url(#dk)" stroke="#333" stroke-width="0.9"/>
<rect x="460.3" y="288.1" width="11.6" height="14.4" fill="white"/>
<rect x="460.3" y="288.1" width="11.6" height="14.4" fill="url(#hk)" stroke="#222" stroke-width="0.9"/>
<line x1="435.4" y1="310" x2="435.4" y2="313.1" stroke="#444" stroke-width="0.9"/>
<line x1="432.6" y1="313.1" x2="438.2" y2="313.1" stroke="#444" stroke-width="0.9"/>
<line x1="435.4" y1="302.5" x2="435.4" y2="307" stroke="#777" stroke-width="0.9"/>
<line x1="433.4" y1="307" x2="437.4" y2="307" stroke="#777" stroke-width="0.9"/>
<line x1="450.9" y1="295.25" x2="450.9" y2="292.5" stroke="#444" stroke-width="0.9"/>
<line x1="448.1" y1="292.5" x2="453.7" y2="292.5" stroke="#444" stroke-width="0.9"/>
<line x1="466.1" y1="288.1" x2="466.1" y2="285.6" stroke="#444" stroke-width="0.9"/>
<line x1="463.3" y1="285.6" x2="468.9" y2="285.6" stroke="#444" stroke-width="0.9"/>
<line x1="426.2" y1="302.5" x2="475" y2="302.5" stroke="#222" stroke-width="1.2"/>
<polyline points="433.1,296.3 433.1,268.75 465.6,268.75 465.6,280" fill="none" stroke="#444" stroke-width="1" stroke-linejoin="round"/>
<polyline points="437.6,296.3 437.6,279.75 450.6,279.75 450.6,286.5" fill="none" stroke="#444" stroke-width="1" stroke-linejoin="round"/>
<text x="450.8" y="271.2" font-size="10" fill="#222" text-anchor="middle">**</text>
<text x="444.4" y="281.6" font-size="10" fill="#222" text-anchor="middle">**</text>
<text x="431.2" y="336.3" font-size="9.4" fill="#222" transform="rotate(45 431.2 336.3)" stroke="#222" stroke-width="0.12">CON</text>
<text x="446.7" y="336.3" font-size="9.4" fill="#222" transform="rotate(45 446.7 336.3)" stroke="#222" stroke-width="0.12">SG</text>
<text x="461.9" y="336.3" font-size="9.4" fill="#222" transform="rotate(45 461.9 336.3)" stroke="#222" stroke-width="0.12">RYGB</text>
<rect x="479.9" y="253.5" width="2.5" height="49.6" fill="#e5242a"/>
<rect x="479.9" y="303" width="2.5" height="17.6" fill="#3b88cc"/>
<polygon points="481.15,246.6 477.3,254 485,254" fill="#e5242a"/>
<polygon points="481.15,327.9 477.3,320.4 485,320.4" fill="#3b88cc"/>
</svg>
</body></html>
